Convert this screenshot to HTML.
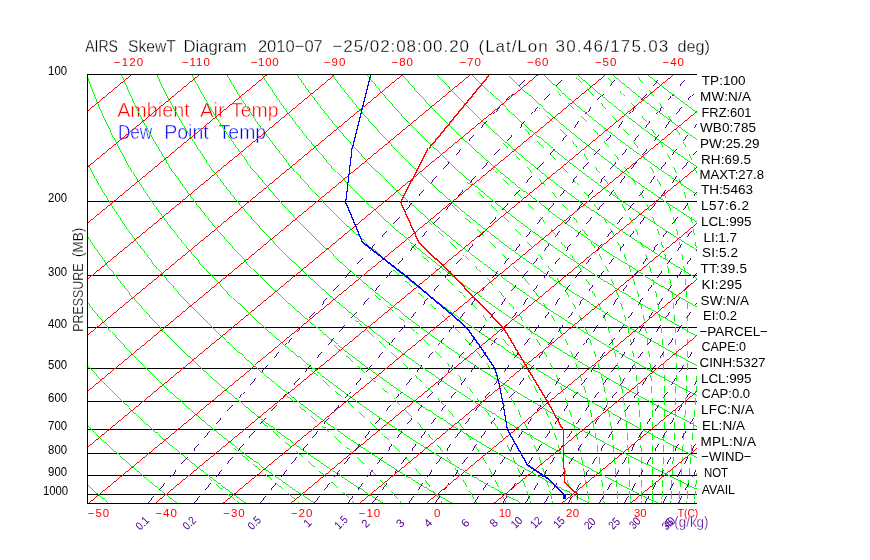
<!DOCTYPE html>
<html><head><meta charset="utf-8"><title>AIRS SkewT Diagram</title>
<style>
html,body{margin:0;padding:0;background:#fff;}
body{width:870px;height:560px;position:relative;overflow:hidden;font-family:"Liberation Sans",sans-serif;}
svg text{font-family:"Liberation Sans",sans-serif;}
</style></head><body>
<svg width="870" height="560" viewBox="0 0 870 560" style="position:absolute;left:0;top:0;transform:translateZ(0)">
<defs><clipPath id="c"><rect x="87" y="74" width="610" height="430"/></clipPath></defs>
<text y="117.2" font-size="21" fill="#ff0000" stroke="#fff" stroke-width="0.5"><tspan x="117.2" textLength="72.5" lengthAdjust="spacingAndGlyphs">Ambient</tspan> <tspan x="200.0" textLength="24.8" lengthAdjust="spacingAndGlyphs">Air</tspan> <tspan x="231.0" textLength="47.6" lengthAdjust="spacingAndGlyphs">Temp</tspan></text>
<text y="138.5" font-size="21" fill="#0000ff" stroke="#fff" stroke-width="0.5"><tspan x="117.9" textLength="34.4" lengthAdjust="spacingAndGlyphs">Dew</tspan> <tspan x="164.2" textLength="44.5" lengthAdjust="spacingAndGlyphs">Point</tspan> <tspan x="218.6" textLength="47.6" lengthAdjust="spacingAndGlyphs">Temp</tspan></text>
<g clip-path="url(#c)" fill="none" stroke-width="1" shape-rendering="crispEdges">
<path stroke="#000000" d="M87 201.5 H697 M87 275.5 H697 M87 327.5 H697 M87 368.5 H697 M87 401.5 H697 M87 429.5 H697 M87 453.5 H697 M87 475.5 H697 M87 494.5 H697"/>
<path stroke="#00ff00" stroke-width="0.99" d="M108.8 503.4 L106.7 501.6 L104.6 499.9 L102.5 498.1 L100.4 496.3 L98.3 494.5 L96.1 492.7 L94.0 490.8 L91.9 488.9 L89.7 487.1 L87.5 485.2 L85.4 483.2 L83.2 481.3 L81.0 479.3 L78.8 477.3 L76.6 475.3 L74.4 473.3 L72.1 471.2 L69.9 469.1 L67.7 467.0 L65.4 464.9 L63.1 462.7 L60.9 460.5 L58.6 458.3 L56.3 456.1 L54.0 453.8 L51.6 451.5 L49.3 449.2 L47.0 446.9 L44.6 444.5 L42.2 442.1 L39.9 439.6 L37.5 437.2 L35.1 434.6 L32.6 432.1 L30.2 429.5 L27.8 426.9 L25.3 424.2 L22.9 421.5 L20.4 418.8 L17.9 416.0 L15.4 413.2 L12.9 410.3 L10.4 407.4 L7.9 404.4 L5.3 401.4 L2.7 398.3 L0.2 395.2 L-2.4 392.1 L-5.0 388.8 L-7.6 385.6 L-10.3 382.2 L-12.9 378.8 L-15.6 375.3 L-18.2 371.8 L-20.9 368.2 L-23.6 364.5 L-26.3 360.7 L-29.0 356.9 L-31.7 353.0 L-34.5 349.0 L-37.2 344.9 L-40.0 340.7 L-42.8 336.4 L-45.6 332.0 L-48.4 327.5 L-51.2 322.9 L-54.0 318.2 L-56.9 313.3 L-59.7 308.3 L-62.6 303.2 L-65.4 297.9 L-68.3 292.5 L-71.2 286.9 L-74.0 281.1 L-76.9 275.1 L-79.8 268.9 L-82.6 262.5 L-85.5 255.9 L-88.3 249.0 L-91.2 241.9 L-94.0 234.4 L-96.8 226.7 L-99.5 218.6 L-102.2 210.1 L-104.9 201.2 L-107.5 191.9 L-110.0 182.0 L-112.4 171.6 L-114.7 160.5 L-116.9 148.8 L-118.8 136.2 L-120.6 122.7 L-122.0 108.1 L-123.1 92.3 L-123.7 74.9 M177.5 503.4 L175.2 501.6 L172.9 499.9 L170.6 498.1 L168.3 496.3 L166.0 494.5 L163.7 492.7 L161.4 490.8 L159.0 488.9 L156.7 487.1 L154.3 485.2 L151.9 483.2 L149.6 481.3 L147.2 479.3 L144.8 477.3 L142.3 475.3 L139.9 473.3 L137.5 471.2 L135.0 469.1 L132.6 467.0 L130.1 464.9 L127.6 462.7 L125.1 460.5 L122.6 458.3 L120.1 456.1 L117.5 453.8 L115.0 451.5 L112.4 449.2 L109.8 446.9 L107.2 444.5 L104.6 442.1 L102.0 439.6 L99.4 437.2 L96.7 434.6 L94.1 432.1 L91.4 429.5 L88.7 426.9 L86.0 424.2 L83.3 421.5 L80.6 418.8 L77.8 416.0 L75.1 413.2 L72.3 410.3 L69.5 407.4 L66.7 404.4 L63.8 401.4 L61.0 398.3 L58.1 395.2 L55.3 392.1 L52.4 388.8 L49.5 385.6 L46.5 382.2 L43.6 378.8 L40.6 375.3 L37.7 371.8 L34.7 368.2 L31.7 364.5 L28.6 360.7 L25.6 356.9 L22.5 353.0 L19.4 349.0 L16.3 344.9 L13.2 340.7 L10.1 336.4 L6.9 332.0 L3.7 327.5 L0.5 322.9 L-2.7 318.2 L-5.9 313.3 L-9.1 308.3 L-12.4 303.2 L-15.7 297.9 L-18.9 292.5 L-22.2 286.9 L-25.6 281.1 L-28.9 275.1 L-32.2 268.9 L-35.6 262.5 L-38.9 255.9 L-42.2 249.0 L-45.6 241.9 L-48.9 234.4 L-52.3 226.7 L-55.6 218.6 L-58.9 210.1 L-62.1 201.2 L-65.3 191.9 L-68.5 182.0 L-71.6 171.6 L-74.6 160.5 L-77.5 148.8 L-80.2 136.2 L-82.8 122.7 L-85.1 108.1 L-87.1 92.3 L-88.7 74.9 M246.2 503.4 L243.7 501.6 L241.2 499.9 L238.8 498.1 L236.3 496.3 L233.8 494.5 L231.2 492.7 L228.7 490.8 L226.2 488.9 L223.6 487.1 L221.1 485.2 L218.5 483.2 L215.9 481.3 L213.3 479.3 L210.7 477.3 L208.1 475.3 L205.4 473.3 L202.8 471.2 L200.1 469.1 L197.4 467.0 L194.7 464.9 L192.0 462.7 L189.3 460.5 L186.6 458.3 L183.8 456.1 L181.1 453.8 L178.3 451.5 L175.5 449.2 L172.7 446.9 L169.9 444.5 L167.0 442.1 L164.2 439.6 L161.3 437.2 L158.4 434.6 L155.5 432.1 L152.6 429.5 L149.6 426.9 L146.7 424.2 L143.7 421.5 L140.7 418.8 L137.7 416.0 L134.7 413.2 L131.6 410.3 L128.6 407.4 L125.5 404.4 L122.4 401.4 L119.3 398.3 L116.1 395.2 L113.0 392.1 L109.8 388.8 L106.6 385.6 L103.3 382.2 L100.1 378.8 L96.8 375.3 L93.5 371.8 L90.2 368.2 L86.9 364.5 L83.5 360.7 L80.2 356.9 L76.8 353.0 L73.3 349.0 L69.9 344.9 L66.4 340.7 L62.9 336.4 L59.4 332.0 L55.9 327.5 L52.3 322.9 L48.7 318.2 L45.1 313.3 L41.5 308.3 L37.8 303.2 L34.1 297.9 L30.4 292.5 L26.7 286.9 L22.9 281.1 L19.1 275.1 L15.3 268.9 L11.5 262.5 L7.7 255.9 L3.8 249.0 L-0.0 241.9 L-3.9 234.4 L-7.8 226.7 L-11.6 218.6 L-15.5 210.1 L-19.4 201.2 L-23.2 191.9 L-27.0 182.0 L-30.8 171.6 L-34.5 160.5 L-38.1 148.8 L-41.6 136.2 L-45.0 122.7 L-48.1 108.1 L-51.0 92.3 L-53.6 74.9 M314.9 503.4 L312.2 501.6 L309.6 499.9 L306.9 498.1 L304.2 496.3 L301.5 494.5 L298.8 492.7 L296.1 490.8 L293.3 488.9 L290.6 487.1 L287.8 485.2 L285.1 483.2 L282.3 481.3 L279.5 479.3 L276.6 477.3 L273.8 475.3 L271.0 473.3 L268.1 471.2 L265.2 469.1 L262.3 467.0 L259.4 464.9 L256.5 462.7 L253.6 460.5 L250.6 458.3 L247.6 456.1 L244.6 453.8 L241.6 451.5 L238.6 449.2 L235.6 446.9 L232.5 444.5 L229.4 442.1 L226.3 439.6 L223.2 437.2 L220.1 434.6 L216.9 432.1 L213.8 429.5 L210.6 426.9 L207.4 424.2 L204.1 421.5 L200.9 418.8 L197.6 416.0 L194.3 413.2 L191.0 410.3 L187.7 407.4 L184.3 404.4 L180.9 401.4 L177.5 398.3 L174.1 395.2 L170.6 392.1 L167.2 388.8 L163.7 385.6 L160.2 382.2 L156.6 378.8 L153.0 375.3 L149.4 371.8 L145.8 368.2 L142.1 364.5 L138.5 360.7 L134.8 356.9 L131.0 353.0 L127.3 349.0 L123.5 344.9 L119.6 340.7 L115.8 336.4 L111.9 332.0 L108.0 327.5 L104.1 322.9 L100.1 318.2 L96.1 313.3 L92.0 308.3 L88.0 303.2 L83.9 297.9 L79.7 292.5 L75.6 286.9 L71.4 281.1 L67.1 275.1 L62.9 268.9 L58.6 262.5 L54.3 255.9 L49.9 249.0 L45.6 241.9 L41.2 234.4 L36.7 226.7 L32.3 218.6 L27.8 210.1 L23.4 201.2 L18.9 191.9 L14.5 182.0 L10.0 171.6 L5.6 160.5 L1.3 148.8 L-3.0 136.2 L-7.2 122.7 L-11.2 108.1 L-15.0 92.3 L-18.5 74.9 M383.6 503.4 L380.7 501.6 L377.9 499.9 L375.0 498.1 L372.1 496.3 L369.3 494.5 L366.4 492.7 L363.4 490.8 L360.5 488.9 L357.6 487.1 L354.6 485.2 L351.6 483.2 L348.6 481.3 L345.6 479.3 L342.6 477.3 L339.6 475.3 L336.5 473.3 L333.4 471.2 L330.3 469.1 L327.2 467.0 L324.1 464.9 L321.0 462.7 L317.8 460.5 L314.6 458.3 L311.4 456.1 L308.2 453.8 L305.0 451.5 L301.7 449.2 L298.4 446.9 L295.1 444.5 L291.8 442.1 L288.5 439.6 L285.1 437.2 L281.8 434.6 L278.4 432.1 L274.9 429.5 L271.5 426.9 L268.0 424.2 L264.6 421.5 L261.0 418.8 L257.5 416.0 L253.9 413.2 L250.4 410.3 L246.8 407.4 L243.1 404.4 L239.5 401.4 L235.8 398.3 L232.1 395.2 L228.3 392.1 L224.6 388.8 L220.8 385.6 L217.0 382.2 L213.1 378.8 L209.2 375.3 L205.3 371.8 L201.4 368.2 L197.4 364.5 L193.4 360.7 L189.4 356.9 L185.3 353.0 L181.2 349.0 L177.0 344.9 L172.9 340.7 L168.7 336.4 L164.4 332.0 L160.1 327.5 L155.8 322.9 L151.5 318.2 L147.1 313.3 L142.6 308.3 L138.1 303.2 L133.6 297.9 L129.1 292.5 L124.5 286.9 L119.8 281.1 L115.2 275.1 L110.4 268.9 L105.7 262.5 L100.9 255.9 L96.0 249.0 L91.1 241.9 L86.2 234.4 L81.2 226.7 L76.2 218.6 L71.2 210.1 L66.1 201.2 L61.1 191.9 L56.0 182.0 L50.9 171.6 L45.7 160.5 L40.7 148.8 L35.6 136.2 L30.6 122.7 L25.8 108.1 L21.0 92.3 L16.5 74.9 M452.3 503.4 L449.2 501.6 L446.2 499.9 L443.2 498.1 L440.1 496.3 L437.0 494.5 L433.9 492.7 L430.8 490.8 L427.7 488.9 L424.5 487.1 L421.4 485.2 L418.2 483.2 L415.0 481.3 L411.8 479.3 L408.5 477.3 L405.3 475.3 L402.0 473.3 L398.7 471.2 L395.4 469.1 L392.1 467.0 L388.8 464.9 L385.4 462.7 L382.0 460.5 L378.6 458.3 L375.2 456.1 L371.8 453.8 L368.3 451.5 L364.8 449.2 L361.3 446.9 L357.8 444.5 L354.2 442.1 L350.7 439.6 L347.1 437.2 L343.4 434.6 L339.8 432.1 L336.1 429.5 L332.4 426.9 L328.7 424.2 L325.0 421.5 L321.2 418.8 L317.4 416.0 L313.6 413.2 L309.7 410.3 L305.9 407.4 L301.9 404.4 L298.0 401.4 L294.0 398.3 L290.1 395.2 L286.0 392.1 L282.0 388.8 L277.9 385.6 L273.8 382.2 L269.6 378.8 L265.4 375.3 L261.2 371.8 L256.9 368.2 L252.6 364.5 L248.3 360.7 L243.9 356.9 L239.5 353.0 L235.1 349.0 L230.6 344.9 L226.1 340.7 L221.5 336.4 L216.9 332.0 L212.3 327.5 L207.6 322.9 L202.8 318.2 L198.0 313.3 L193.2 308.3 L188.3 303.2 L183.4 297.9 L178.4 292.5 L173.4 286.9 L168.3 281.1 L163.2 275.1 L158.0 268.9 L152.7 262.5 L147.5 255.9 L142.1 249.0 L136.7 241.9 L131.2 234.4 L125.7 226.7 L120.2 218.6 L114.6 210.1 L108.9 201.2 L103.2 191.9 L97.4 182.0 L91.7 171.6 L85.9 160.5 L80.0 148.8 L74.2 136.2 L68.4 122.7 L62.7 108.1 L57.1 92.3 L51.6 74.9 M521.0 503.4 L517.8 501.6 L514.5 499.9 L511.3 498.1 L508.0 496.3 L504.8 494.5 L501.5 492.7 L498.2 490.8 L494.8 488.9 L491.5 487.1 L488.1 485.2 L484.7 483.2 L481.3 481.3 L477.9 479.3 L474.5 477.3 L471.0 475.3 L467.6 473.3 L464.1 471.2 L460.5 469.1 L457.0 467.0 L453.4 464.9 L449.9 462.7 L446.3 460.5 L442.6 458.3 L439.0 456.1 L435.3 453.8 L431.6 451.5 L427.9 449.2 L424.2 446.9 L420.4 444.5 L416.6 442.1 L412.8 439.6 L409.0 437.2 L405.1 434.6 L401.2 432.1 L397.3 429.5 L393.4 426.9 L389.4 424.2 L385.4 421.5 L381.4 418.8 L377.3 416.0 L373.2 413.2 L369.1 410.3 L364.9 407.4 L360.8 404.4 L356.6 401.4 L352.3 398.3 L348.0 395.2 L343.7 392.1 L339.4 388.8 L335.0 385.6 L330.6 382.2 L326.1 378.8 L321.6 375.3 L317.1 371.8 L312.5 368.2 L307.9 364.5 L303.2 360.7 L298.5 356.9 L293.8 353.0 L289.0 349.0 L284.2 344.9 L279.3 340.7 L274.4 336.4 L269.4 332.0 L264.4 327.5 L259.3 322.9 L254.2 318.2 L249.0 313.3 L243.8 308.3 L238.5 303.2 L233.2 297.9 L227.8 292.5 L222.3 286.9 L216.8 281.1 L211.2 275.1 L205.5 268.9 L199.8 262.5 L194.0 255.9 L188.2 249.0 L182.3 241.9 L176.3 234.4 L170.2 226.7 L164.1 218.6 L157.9 210.1 L151.7 201.2 L145.3 191.9 L138.9 182.0 L132.5 171.6 L126.0 160.5 L119.4 148.8 L112.8 136.2 L106.2 122.7 L99.6 108.1 L93.1 92.3 L86.7 74.9 M589.7 503.4 L586.3 501.6 L582.9 499.9 L579.4 498.1 L576.0 496.3 L572.5 494.5 L569.0 492.7 L565.5 490.8 L562.0 488.9 L558.5 487.1 L554.9 485.2 L551.3 483.2 L547.7 481.3 L544.1 479.3 L540.4 477.3 L536.8 475.3 L533.1 473.3 L529.4 471.2 L525.6 469.1 L521.9 467.0 L518.1 464.9 L514.3 462.7 L510.5 460.5 L506.6 458.3 L502.8 456.1 L498.9 453.8 L495.0 451.5 L491.0 449.2 L487.0 446.9 L483.0 444.5 L479.0 442.1 L475.0 439.6 L470.9 437.2 L466.8 434.6 L462.6 432.1 L458.5 429.5 L454.3 426.9 L450.1 424.2 L445.8 421.5 L441.5 418.8 L437.2 416.0 L432.8 413.2 L428.5 410.3 L424.0 407.4 L419.6 404.4 L415.1 401.4 L410.6 398.3 L406.0 395.2 L401.4 392.1 L396.8 388.8 L392.1 385.6 L387.4 382.2 L382.6 378.8 L377.8 375.3 L373.0 371.8 L368.1 368.2 L363.1 364.5 L358.2 360.7 L353.1 356.9 L348.1 353.0 L342.9 349.0 L337.8 344.9 L332.5 340.7 L327.2 336.4 L321.9 332.0 L316.5 327.5 L311.1 322.9 L305.6 318.2 L300.0 313.3 L294.4 308.3 L288.7 303.2 L282.9 297.9 L277.1 292.5 L271.2 286.9 L265.2 281.1 L259.2 275.1 L253.1 268.9 L246.9 262.5 L240.6 255.9 L234.3 249.0 L227.9 241.9 L221.3 234.4 L214.7 226.7 L208.1 218.6 L201.3 210.1 L194.4 201.2 L187.5 191.9 L180.4 182.0 L173.3 171.6 L166.1 160.5 L158.8 148.8 L151.4 136.2 L144.0 122.7 L136.6 108.1 L129.1 92.3 L121.7 74.9 M658.4 503.4 L654.8 501.6 L651.2 499.9 L647.6 498.1 L643.9 496.3 L640.3 494.5 L636.6 492.7 L632.9 490.8 L629.2 488.9 L625.4 487.1 L621.7 485.2 L617.9 483.2 L614.1 481.3 L610.2 479.3 L606.4 477.3 L602.5 475.3 L598.6 473.3 L594.7 471.2 L590.7 469.1 L586.8 467.0 L582.8 464.9 L578.8 462.7 L574.7 460.5 L570.7 458.3 L566.6 456.1 L562.4 453.8 L558.3 451.5 L554.1 449.2 L549.9 446.9 L545.7 444.5 L541.4 442.1 L537.1 439.6 L532.8 437.2 L528.5 434.6 L524.1 432.1 L519.7 429.5 L515.2 426.9 L510.7 424.2 L506.2 421.5 L501.7 418.8 L497.1 416.0 L492.5 413.2 L487.8 410.3 L483.1 407.4 L478.4 404.4 L473.6 401.4 L468.8 398.3 L464.0 395.2 L459.1 392.1 L454.2 388.8 L449.2 385.6 L444.2 382.2 L439.1 378.8 L434.0 375.3 L428.8 371.8 L423.6 368.2 L418.4 364.5 L413.1 360.7 L407.7 356.9 L402.3 353.0 L396.8 349.0 L391.3 344.9 L385.7 340.7 L380.1 336.4 L374.4 332.0 L368.7 327.5 L362.8 322.9 L356.9 318.2 L351.0 313.3 L345.0 308.3 L338.9 303.2 L332.7 297.9 L326.4 292.5 L320.1 286.9 L313.7 281.1 L307.2 275.1 L300.6 268.9 L294.0 262.5 L287.2 255.9 L280.4 249.0 L273.4 241.9 L266.4 234.4 L259.2 226.7 L252.0 218.6 L244.6 210.1 L237.2 201.2 L229.6 191.9 L221.9 182.0 L214.1 171.6 L206.2 160.5 L198.2 148.8 L190.1 136.2 L181.8 122.7 L173.5 108.1 L165.2 92.3 L156.8 74.9 M727.1 503.4 L723.3 501.6 L719.5 499.9 L715.7 498.1 L711.9 496.3 L708.0 494.5 L704.1 492.7 L700.2 490.8 L696.3 488.9 L692.4 487.1 L688.4 485.2 L684.4 483.2 L680.4 481.3 L676.4 479.3 L672.3 477.3 L668.2 475.3 L664.1 473.3 L660.0 471.2 L655.9 469.1 L651.7 467.0 L647.5 464.9 L643.2 462.7 L639.0 460.5 L634.7 458.3 L630.4 456.1 L626.0 453.8 L621.6 451.5 L617.2 449.2 L612.8 446.9 L608.3 444.5 L603.8 442.1 L599.3 439.6 L594.7 437.2 L590.1 434.6 L585.5 432.1 L580.8 429.5 L576.1 426.9 L571.4 424.2 L566.6 421.5 L561.8 418.8 L557.0 416.0 L552.1 413.2 L547.2 410.3 L542.2 407.4 L537.2 404.4 L532.2 401.4 L527.1 398.3 L522.0 395.2 L516.8 392.1 L511.6 388.8 L506.3 385.6 L501.0 382.2 L495.6 378.8 L490.2 375.3 L484.7 371.8 L479.2 368.2 L473.6 364.5 L468.0 360.7 L462.3 356.9 L456.6 353.0 L450.8 349.0 L444.9 344.9 L439.0 340.7 L433.0 336.4 L426.9 332.0 L420.8 327.5 L414.6 322.9 L408.3 318.2 L402.0 313.3 L395.5 308.3 L389.0 303.2 L382.4 297.9 L375.8 292.5 L369.0 286.9 L362.2 281.1 L355.2 275.1 L348.2 268.9 L341.0 262.5 L333.8 255.9 L326.5 249.0 L319.0 241.9 L311.4 234.4 L303.7 226.7 L295.9 218.6 L288.0 210.1 L279.9 201.2 L271.7 191.9 L263.4 182.0 L254.9 171.6 L246.3 160.5 L237.6 148.8 L228.7 136.2 L219.6 122.7 L210.5 108.1 L201.2 92.3 L191.9 74.9 M795.8 503.4 L791.8 501.6 L787.8 499.9 L783.8 498.1 L779.8 496.3 L775.8 494.5 L771.7 492.7 L767.6 490.8 L763.5 488.9 L759.3 487.1 L755.2 485.2 L751.0 483.2 L746.8 481.3 L742.5 479.3 L738.3 477.3 L734.0 475.3 L729.7 473.3 L725.3 471.2 L721.0 469.1 L716.6 467.0 L712.1 464.9 L707.7 462.7 L703.2 460.5 L698.7 458.3 L694.1 456.1 L689.6 453.8 L685.0 451.5 L680.3 449.2 L675.7 446.9 L671.0 444.5 L666.2 442.1 L661.5 439.6 L656.6 437.2 L651.8 434.6 L646.9 432.1 L642.0 429.5 L637.1 426.9 L632.1 424.2 L627.1 421.5 L622.0 418.8 L616.9 416.0 L611.7 413.2 L606.5 410.3 L601.3 407.4 L596.0 404.4 L590.7 401.4 L585.3 398.3 L579.9 395.2 L574.5 392.1 L569.0 388.8 L563.4 385.6 L557.8 382.2 L552.1 378.8 L546.4 375.3 L540.6 371.8 L534.8 368.2 L528.9 364.5 L522.9 360.7 L516.9 356.9 L510.8 353.0 L504.7 349.0 L498.5 344.9 L492.2 340.7 L485.8 336.4 L479.4 332.0 L472.9 327.5 L466.3 322.9 L459.7 318.2 L452.9 313.3 L446.1 308.3 L439.2 303.2 L432.2 297.9 L425.1 292.5 L417.9 286.9 L410.6 281.1 L403.2 275.1 L395.7 268.9 L388.1 262.5 L380.4 255.9 L372.5 249.0 L364.6 241.9 L356.5 234.4 L348.2 226.7 L339.9 218.6 L331.4 210.1 L322.7 201.2 L313.9 191.9 L304.9 182.0 L295.7 171.6 L286.4 160.5 L276.9 148.8 L267.3 136.2 L257.4 122.7 L247.4 108.1 L237.2 92.3 L226.9 74.9 M864.5 503.4 L860.3 501.6 L856.2 499.9 L852.0 498.1 L847.8 496.3 L843.5 494.5 L839.2 492.7 L835.0 490.8 L830.6 488.9 L826.3 487.1 L821.9 485.2 L817.6 483.2 L813.1 481.3 L808.7 479.3 L804.2 477.3 L799.7 475.3 L795.2 473.3 L790.6 471.2 L786.1 469.1 L781.4 467.0 L776.8 464.9 L772.1 462.7 L767.4 460.5 L762.7 458.3 L757.9 456.1 L753.1 453.8 L748.3 451.5 L743.4 449.2 L738.5 446.9 L733.6 444.5 L728.6 442.1 L723.6 439.6 L718.6 437.2 L713.5 434.6 L708.4 432.1 L703.2 429.5 L698.0 426.9 L692.8 424.2 L687.5 421.5 L682.2 418.8 L676.8 416.0 L671.4 413.2 L665.9 410.3 L660.4 407.4 L654.9 404.4 L649.3 401.4 L643.6 398.3 L637.9 395.2 L632.2 392.1 L626.4 388.8 L620.5 385.6 L614.6 382.2 L608.6 378.8 L602.6 375.3 L596.5 371.8 L590.3 368.2 L584.1 364.5 L577.8 360.7 L571.5 356.9 L565.1 353.0 L558.6 349.0 L552.0 344.9 L545.4 340.7 L538.7 336.4 L531.9 332.0 L525.0 327.5 L518.1 322.9 L511.1 318.2 L503.9 313.3 L496.7 308.3 L489.4 303.2 L482.0 297.9 L474.5 292.5 L466.8 286.9 L459.1 281.1 L451.3 275.1 L443.3 268.9 L435.2 262.5 L427.0 255.9 L418.6 249.0 L410.1 241.9 L401.5 234.4 L392.7 226.7 L383.8 218.6 L374.7 210.1 L365.4 201.2 L356.0 191.9 L346.4 182.0 L336.6 171.6 L326.5 160.5 L316.3 148.8 L305.9 136.2 L295.2 122.7 L284.4 108.1 L273.3 92.3 L262.0 74.9 M933.2 503.4 L928.8 501.6 L924.5 499.9 L920.1 498.1 L915.7 496.3 L911.3 494.5 L906.8 492.7 L902.3 490.8 L897.8 488.9 L893.3 487.1 L888.7 485.2 L884.1 483.2 L879.5 481.3 L874.8 479.3 L870.2 477.3 L865.5 475.3 L860.7 473.3 L856.0 471.2 L851.2 469.1 L846.3 467.0 L841.5 464.9 L836.6 462.7 L831.7 460.5 L826.7 458.3 L821.7 456.1 L816.7 453.8 L811.6 451.5 L806.5 449.2 L801.4 446.9 L796.2 444.5 L791.0 442.1 L785.8 439.6 L780.5 437.2 L775.2 434.6 L769.8 432.1 L764.4 429.5 L758.9 426.9 L753.4 424.2 L747.9 421.5 L742.3 418.8 L736.7 416.0 L731.0 413.2 L725.3 410.3 L719.5 407.4 L713.7 404.4 L707.8 401.4 L701.9 398.3 L695.9 395.2 L689.8 392.1 L683.7 388.8 L677.6 385.6 L671.4 382.2 L665.1 378.8 L658.8 375.3 L652.4 371.8 L645.9 368.2 L639.4 364.5 L632.8 360.7 L626.1 356.9 L619.3 353.0 L612.5 349.0 L605.6 344.9 L598.6 340.7 L591.6 336.4 L584.4 332.0 L577.2 327.5 L569.8 322.9 L562.4 318.2 L554.9 313.3 L547.3 308.3 L539.6 303.2 L531.7 297.9 L523.8 292.5 L515.7 286.9 L507.6 281.1 L499.3 275.1 L490.8 268.9 L482.3 262.5 L473.6 255.9 L464.7 249.0 L455.7 241.9 L446.6 234.4 L437.2 226.7 L427.7 218.6 L418.1 210.1 L408.2 201.2 L398.1 191.9 L387.9 182.0 L377.4 171.6 L366.7 160.5 L355.7 148.8 L344.5 136.2 L333.0 122.7 L321.3 108.1 L309.3 92.3 L297.1 74.9 M1001.9 503.4 L997.4 501.6 L992.8 499.9 L988.2 498.1 L983.6 496.3 L979.0 494.5 L974.4 492.7 L969.7 490.8 L965.0 488.9 L960.2 487.1 L955.5 485.2 L950.7 483.2 L945.9 481.3 L941.0 479.3 L936.1 477.3 L931.2 475.3 L926.3 473.3 L921.3 471.2 L916.3 469.1 L911.2 467.0 L906.2 464.9 L901.0 462.7 L895.9 460.5 L890.7 458.3 L885.5 456.1 L880.2 453.8 L875.0 451.5 L869.6 449.2 L864.3 446.9 L858.9 444.5 L853.4 442.1 L847.9 439.6 L842.4 437.2 L836.8 434.6 L831.2 432.1 L825.6 429.5 L819.9 426.9 L814.1 424.2 L808.3 421.5 L802.5 418.8 L796.6 416.0 L790.6 413.2 L784.6 410.3 L778.6 407.4 L772.5 404.4 L766.3 401.4 L760.1 398.3 L753.9 395.2 L747.5 392.1 L741.1 388.8 L734.7 385.6 L728.2 382.2 L721.6 378.8 L715.0 375.3 L708.3 371.8 L701.5 368.2 L694.6 364.5 L687.7 360.7 L680.7 356.9 L673.6 353.0 L666.4 349.0 L659.2 344.9 L651.9 340.7 L644.4 336.4 L636.9 332.0 L629.3 327.5 L621.6 322.9 L613.8 318.2 L605.9 313.3 L597.9 308.3 L589.7 303.2 L581.5 297.9 L573.1 292.5 L564.6 286.9 L556.0 281.1 L547.3 275.1 L538.4 268.9 L529.4 262.5 L520.2 255.9 L510.8 249.0 L501.3 241.9 L491.6 234.4 L481.7 226.7 L471.7 218.6 L461.4 210.1 L451.0 201.2 L440.3 191.9 L429.3 182.0 L418.2 171.6 L406.8 160.5 L395.1 148.8 L383.1 136.2 L370.8 122.7 L358.3 108.1 L345.4 92.3 L332.1 74.9 M1070.6 503.4 L1065.9 501.6 L1061.1 499.9 L1056.4 498.1 L1051.6 496.3 L1046.8 494.5 L1041.9 492.7 L1037.0 490.8 L1032.1 488.9 L1027.2 487.1 L1022.2 485.2 L1017.2 483.2 L1012.2 481.3 L1007.2 479.3 L1002.1 477.3 L996.9 475.3 L991.8 473.3 L986.6 471.2 L981.4 469.1 L976.1 467.0 L970.8 464.9 L965.5 462.7 L960.1 460.5 L954.7 458.3 L949.3 456.1 L943.8 453.8 L938.3 451.5 L932.7 449.2 L927.1 446.9 L921.5 444.5 L915.8 442.1 L910.1 439.6 L904.3 437.2 L898.5 434.6 L892.6 432.1 L886.7 429.5 L880.8 426.9 L874.8 424.2 L868.7 421.5 L862.6 418.8 L856.5 416.0 L850.3 413.2 L844.0 410.3 L837.7 407.4 L831.3 404.4 L824.9 401.4 L818.4 398.3 L811.8 395.2 L805.2 392.1 L798.5 388.8 L791.8 385.6 L785.0 382.2 L778.1 378.8 L771.2 375.3 L764.1 371.8 L757.0 368.2 L749.9 364.5 L742.6 360.7 L735.3 356.9 L727.9 353.0 L720.3 349.0 L712.8 344.9 L705.1 340.7 L697.3 336.4 L689.4 332.0 L681.4 327.5 L673.4 322.9 L665.2 318.2 L656.9 313.3 L648.5 308.3 L639.9 303.2 L631.3 297.9 L622.5 292.5 L613.6 286.9 L604.5 281.1 L595.3 275.1 L585.9 268.9 L576.4 262.5 L566.7 255.9 L556.9 249.0 L546.9 241.9 L536.7 234.4 L526.2 226.7 L515.6 218.6 L504.8 210.1 L493.7 201.2 L482.4 191.9 L470.8 182.0 L459.0 171.6 L446.9 160.5 L434.5 148.8 L421.7 136.2 L408.6 122.7 L395.2 108.1 L381.4 92.3 L367.2 74.9 M1139.3 503.4 L1134.4 501.6 L1129.5 499.9 L1124.5 498.1 L1119.5 496.3 L1114.5 494.5 L1109.5 492.7 L1104.4 490.8 L1099.3 488.9 L1094.2 487.1 L1089.0 485.2 L1083.8 483.2 L1078.6 481.3 L1073.3 479.3 L1068.0 477.3 L1062.7 475.3 L1057.3 473.3 L1051.9 471.2 L1046.5 469.1 L1041.0 467.0 L1035.5 464.9 L1030.0 462.7 L1024.4 460.5 L1018.7 458.3 L1013.1 456.1 L1007.4 453.8 L1001.6 451.5 L995.8 449.2 L990.0 446.9 L984.1 444.5 L978.2 442.1 L972.2 439.6 L966.2 437.2 L960.2 434.6 L954.1 432.1 L947.9 429.5 L941.7 426.9 L935.5 424.2 L929.1 421.5 L922.8 418.8 L916.4 416.0 L909.9 413.2 L903.4 410.3 L896.8 407.4 L890.1 404.4 L883.4 401.4 L876.6 398.3 L869.8 395.2 L862.9 392.1 L855.9 388.8 L848.9 385.6 L841.8 382.2 L834.6 378.8 L827.4 375.3 L820.0 371.8 L812.6 368.2 L805.1 364.5 L797.5 360.7 L789.9 356.9 L782.1 353.0 L774.3 349.0 L766.3 344.9 L758.3 340.7 L750.2 336.4 L741.9 332.0 L733.6 327.5 L725.1 322.9 L716.5 318.2 L707.9 313.3 L699.0 308.3 L690.1 303.2 L681.0 297.9 L671.8 292.5 L662.5 286.9 L653.0 281.1 L643.3 275.1 L633.5 268.9 L623.5 262.5 L613.3 255.9 L603.0 249.0 L592.4 241.9 L581.7 234.4 L570.7 226.7 L559.6 218.6 L548.1 210.1 L536.5 201.2 L524.5 191.9 L512.3 182.0 L499.8 171.6 L487.0 160.5 L473.8 148.8 L460.3 136.2 L446.4 122.7 L432.1 108.1 L417.4 92.3 L402.3 74.9 M1208.0 503.4 L1202.9 501.6 L1197.8 499.9 L1192.6 498.1 L1187.5 496.3 L1182.3 494.5 L1177.0 492.7 L1171.8 490.8 L1166.5 488.9 L1161.1 487.1 L1155.8 485.2 L1150.4 483.2 L1144.9 481.3 L1139.5 479.3 L1134.0 477.3 L1128.4 475.3 L1122.8 473.3 L1117.2 471.2 L1111.6 469.1 L1105.9 467.0 L1100.2 464.9 L1094.4 462.7 L1088.6 460.5 L1082.8 458.3 L1076.9 456.1 L1070.9 453.8 L1065.0 451.5 L1058.9 449.2 L1052.9 446.9 L1046.8 444.5 L1040.6 442.1 L1034.4 439.6 L1028.2 437.2 L1021.9 434.6 L1015.5 432.1 L1009.1 429.5 L1002.6 426.9 L996.1 424.2 L989.6 421.5 L982.9 418.8 L976.3 416.0 L969.5 413.2 L962.7 410.3 L955.9 407.4 L948.9 404.4 L942.0 401.4 L934.9 398.3 L927.8 395.2 L920.6 392.1 L913.3 388.8 L906.0 385.6 L898.6 382.2 L891.1 378.8 L883.5 375.3 L875.9 371.8 L868.2 368.2 L860.4 364.5 L852.5 360.7 L844.5 356.9 L836.4 353.0 L828.2 349.0 L819.9 344.9 L811.5 340.7 L803.0 336.4 L794.4 332.0 L785.7 327.5 L776.9 322.9 L767.9 318.2 L758.8 313.3 L749.6 308.3 L740.3 303.2 L730.8 297.9 L721.2 292.5 L711.4 286.9 L701.4 281.1 L691.3 275.1 L681.0 268.9 L670.6 262.5 L659.9 255.9 L649.1 249.0 L638.0 241.9 L626.7 234.4 L615.2 226.7 L603.5 218.6 L591.5 210.1 L579.2 201.2 L566.7 191.9 L553.8 182.0 L540.6 171.6 L527.1 160.5 L513.2 148.8 L498.9 136.2 L484.2 122.7 L469.1 108.1 L453.5 92.3 L437.3 74.9 M1276.7 503.4 L1271.4 501.6 L1266.1 499.9 L1260.8 498.1 L1255.4 496.3 L1250.0 494.5 L1244.6 492.7 L1239.1 490.8 L1233.6 488.9 L1228.1 487.1 L1222.5 485.2 L1216.9 483.2 L1211.3 481.3 L1205.6 479.3 L1199.9 477.3 L1194.2 475.3 L1188.4 473.3 L1182.6 471.2 L1176.7 469.1 L1170.8 467.0 L1164.8 464.9 L1158.9 462.7 L1152.8 460.5 L1146.8 458.3 L1140.7 456.1 L1134.5 453.8 L1128.3 451.5 L1122.0 449.2 L1115.7 446.9 L1109.4 444.5 L1103.0 442.1 L1096.6 439.6 L1090.1 437.2 L1083.5 434.6 L1076.9 432.1 L1070.3 429.5 L1063.6 426.9 L1056.8 424.2 L1050.0 421.5 L1043.1 418.8 L1036.2 416.0 L1029.2 413.2 L1022.1 410.3 L1015.0 407.4 L1007.8 404.4 L1000.5 401.4 L993.2 398.3 L985.8 395.2 L978.3 392.1 L970.7 388.8 L963.1 385.6 L955.4 382.2 L947.6 378.8 L939.7 375.3 L931.8 371.8 L923.7 368.2 L915.6 364.5 L907.4 360.7 L899.0 356.9 L890.6 353.0 L882.1 349.0 L873.5 344.9 L864.7 340.7 L855.9 336.4 L846.9 332.0 L837.8 327.5 L828.6 322.9 L819.3 318.2 L809.8 313.3 L800.2 308.3 L790.5 303.2 L780.6 297.9 L770.5 292.5 L760.3 286.9 L749.9 281.1 L739.3 275.1 L728.6 268.9 L717.7 262.5 L706.5 255.9 L695.2 249.0 L683.6 241.9 L671.8 234.4 L659.7 226.7 L647.4 218.6 L634.9 210.1 L622.0 201.2 L608.8 191.9 L595.3 182.0 L581.4 171.6 L567.2 160.5 L552.6 148.8 L537.5 136.2 L522.0 122.7 L506.0 108.1 L489.5 92.3 L472.4 74.9 M1345.4 503.4 L1339.9 501.6 L1334.4 499.9 L1328.9 498.1 L1323.4 496.3 L1317.8 494.5 L1312.1 492.7 L1306.5 490.8 L1300.8 488.9 L1295.1 487.1 L1289.3 485.2 L1283.5 483.2 L1277.6 481.3 L1271.8 479.3 L1265.9 477.3 L1259.9 475.3 L1253.9 473.3 L1247.9 471.2 L1241.8 469.1 L1235.7 467.0 L1229.5 464.9 L1223.3 462.7 L1217.1 460.5 L1210.8 458.3 L1204.4 456.1 L1198.1 453.8 L1191.6 451.5 L1185.1 449.2 L1178.6 446.9 L1172.0 444.5 L1165.4 442.1 L1158.7 439.6 L1152.0 437.2 L1145.2 434.6 L1138.4 432.1 L1131.5 429.5 L1124.5 426.9 L1117.5 424.2 L1110.4 421.5 L1103.3 418.8 L1096.1 416.0 L1088.8 413.2 L1081.5 410.3 L1074.1 407.4 L1066.6 404.4 L1059.0 401.4 L1051.4 398.3 L1043.7 395.2 L1036.0 392.1 L1028.1 388.8 L1020.2 385.6 L1012.2 382.2 L1004.1 378.8 L995.9 375.3 L987.7 371.8 L979.3 368.2 L970.8 364.5 L962.3 360.7 L953.6 356.9 L944.9 353.0 L936.0 349.0 L927.0 344.9 L918.0 340.7 L908.7 336.4 L899.4 332.0 L890.0 327.5 L880.4 322.9 L870.7 318.2 L860.8 313.3 L850.8 308.3 L840.6 303.2 L830.3 297.9 L819.8 292.5 L809.2 286.9 L798.4 281.1 L787.3 275.1 L776.1 268.9 L764.7 262.5 L753.1 255.9 L741.3 249.0 L729.2 241.9 L716.8 234.4 L704.2 226.7 L691.4 218.6 L678.2 210.1 L664.7 201.2 L650.9 191.9 L636.8 182.0 L622.3 171.6 L607.3 160.5 L592.0 148.8 L576.2 136.2 L559.8 122.7 L543.0 108.1 L525.5 92.3 L507.5 74.9 M1414.1 503.4 L1408.4 501.6 L1402.8 499.9 L1397.0 498.1 L1391.3 496.3 L1385.5 494.5 L1379.7 492.7 L1373.8 490.8 L1367.9 488.9 L1362.0 487.1 L1356.0 485.2 L1350.0 483.2 L1344.0 481.3 L1337.9 479.3 L1331.8 477.3 L1325.6 475.3 L1319.4 473.3 L1313.2 471.2 L1306.9 469.1 L1300.6 467.0 L1294.2 464.9 L1287.8 462.7 L1281.3 460.5 L1274.8 458.3 L1268.2 456.1 L1261.6 453.8 L1255.0 451.5 L1248.2 449.2 L1241.5 446.9 L1234.7 444.5 L1227.8 442.1 L1220.9 439.6 L1213.9 437.2 L1206.9 434.6 L1199.8 432.1 L1192.6 429.5 L1185.4 426.9 L1178.2 424.2 L1170.8 421.5 L1163.4 418.8 L1156.0 416.0 L1148.4 413.2 L1140.8 410.3 L1133.1 407.4 L1125.4 404.4 L1117.6 401.4 L1109.7 398.3 L1101.7 395.2 L1093.7 392.1 L1085.5 388.8 L1077.3 385.6 L1069.0 382.2 L1060.6 378.8 L1052.1 375.3 L1043.5 371.8 L1034.9 368.2 L1026.1 364.5 L1017.2 360.7 L1008.2 356.9 L999.1 353.0 L989.9 349.0 L980.6 344.9 L971.2 340.7 L961.6 336.4 L951.9 332.0 L942.1 327.5 L932.1 322.9 L922.0 318.2 L911.8 313.3 L901.4 308.3 L890.8 303.2 L880.1 297.9 L869.2 292.5 L858.1 286.9 L846.8 281.1 L835.4 275.1 L823.7 268.9 L811.8 262.5 L799.7 255.9 L787.3 249.0 L774.7 241.9 L761.9 234.4 L748.7 226.7 L735.3 218.6 L721.6 210.1 L707.5 201.2 L693.1 191.9 L678.3 182.0 L663.1 171.6 L647.4 160.5 L631.4 148.8 L614.8 136.2 L597.6 122.7 L579.9 108.1 L561.6 92.3 L542.5 74.9 M1482.8 503.4 L1477.0 501.6 L1471.1 499.9 L1465.2 498.1 L1459.2 496.3 L1453.3 494.5 L1447.2 492.7 L1441.2 490.8 L1435.1 488.9 L1429.0 487.1 L1422.8 485.2 L1416.6 483.2 L1410.4 481.3 L1404.1 479.3 L1397.7 477.3 L1391.4 475.3 L1385.0 473.3 L1378.5 471.2 L1372.0 469.1 L1365.5 467.0 L1358.9 464.9 L1352.2 462.7 L1345.5 460.5 L1338.8 458.3 L1332.0 456.1 L1325.2 453.8 L1318.3 451.5 L1311.4 449.2 L1304.4 446.9 L1297.3 444.5 L1290.2 442.1 L1283.0 439.6 L1275.8 437.2 L1268.6 434.6 L1261.2 432.1 L1253.8 429.5 L1246.4 426.9 L1238.8 424.2 L1231.2 421.5 L1223.6 418.8 L1215.9 416.0 L1208.1 413.2 L1200.2 410.3 L1192.2 407.4 L1184.2 404.4 L1176.1 401.4 L1168.0 398.3 L1159.7 395.2 L1151.4 392.1 L1142.9 388.8 L1134.4 385.6 L1125.8 382.2 L1117.1 378.8 L1108.3 375.3 L1099.4 371.8 L1090.4 368.2 L1081.3 364.5 L1072.1 360.7 L1062.8 356.9 L1053.4 353.0 L1043.9 349.0 L1034.2 344.9 L1024.4 340.7 L1014.5 336.4 L1004.4 332.0 L994.2 327.5 L983.9 322.9 L973.4 318.2 L962.8 313.3 L952.0 308.3 L941.0 303.2 L929.8 297.9 L918.5 292.5 L907.0 286.9 L895.3 281.1 L883.4 275.1 L871.2 268.9 L858.9 262.5 L846.3 255.9 L833.4 249.0 L820.3 241.9 L806.9 234.4 L793.2 226.7 L779.3 218.6 L764.9 210.1 L750.3 201.2 L735.2 191.9 L719.8 182.0 L703.9 171.6 L687.6 160.5 L670.7 148.8 L653.4 136.2 L635.4 122.7 L616.9 108.1 L597.6 92.3 L577.6 74.9 M1551.5 503.4 L1545.5 501.6 L1539.4 499.9 L1533.3 498.1 L1527.2 496.3 L1521.0 494.5 L1514.8 492.7 L1508.6 490.8 L1502.3 488.9 L1495.9 487.1 L1489.6 485.2 L1483.2 483.2 L1476.7 481.3 L1470.2 479.3 L1463.7 477.3 L1457.1 475.3 L1450.5 473.3 L1443.8 471.2 L1437.1 469.1 L1430.3 467.0 L1423.5 464.9 L1416.7 462.7 L1409.8 460.5 L1402.8 458.3 L1395.8 456.1 L1388.7 453.8 L1381.6 451.5 L1374.5 449.2 L1367.2 446.9 L1359.9 444.5 L1352.6 442.1 L1345.2 439.6 L1337.7 437.2 L1330.2 434.6 L1322.6 432.1 L1315.0 429.5 L1307.3 426.9 L1299.5 424.2 L1291.7 421.5 L1283.7 418.8 L1275.8 416.0 L1267.7 413.2 L1259.5 410.3 L1251.3 407.4 L1243.0 404.4 L1234.7 401.4 L1226.2 398.3 L1217.7 395.2 L1209.0 392.1 L1200.3 388.8 L1191.5 385.6 L1182.6 382.2 L1173.6 378.8 L1164.5 375.3 L1155.3 371.8 L1146.0 368.2 L1136.6 364.5 L1127.1 360.7 L1117.4 356.9 L1107.7 353.0 L1097.8 349.0 L1087.8 344.9 L1077.6 340.7 L1067.3 336.4 L1056.9 332.0 L1046.4 327.5 L1035.6 322.9 L1024.8 318.2 L1013.7 313.3 L1002.5 308.3 L991.2 303.2 L979.6 297.9 L967.9 292.5 L955.9 286.9 L943.8 281.1 L931.4 275.1 L918.8 268.9 L906.0 262.5 L892.9 255.9 L879.5 249.0 L865.9 241.9 L852.0 234.4 L837.7 226.7 L823.2 218.6 L808.3 210.1 L793.0 201.2 L777.3 191.9 L761.2 182.0 L744.7 171.6 L727.7 160.5 L710.1 148.8 L692.0 136.2 L673.2 122.7 L653.8 108.1 L633.7 92.3 L612.7 74.9 M1620.2 503.4 L1614.0 501.6 L1607.7 499.9 L1601.4 498.1 L1595.1 496.3 L1588.8 494.5 L1582.4 492.7 L1575.9 490.8 L1569.4 488.9 L1562.9 487.1 L1556.3 485.2 L1549.7 483.2 L1543.1 481.3 L1536.4 479.3 L1529.6 477.3 L1522.9 475.3 L1516.0 473.3 L1509.1 471.2 L1502.2 469.1 L1495.2 467.0 L1488.2 464.9 L1481.1 462.7 L1474.0 460.5 L1466.8 458.3 L1459.6 456.1 L1452.3 453.8 L1445.0 451.5 L1437.6 449.2 L1430.1 446.9 L1422.6 444.5 L1415.0 442.1 L1407.4 439.6 L1399.7 437.2 L1391.9 434.6 L1384.1 432.1 L1376.2 429.5 L1368.2 426.9 L1360.2 424.2 L1352.1 421.5 L1343.9 418.8 L1335.6 416.0 L1327.3 413.2 L1318.9 410.3 L1310.4 407.4 L1301.9 404.4 L1293.2 401.4 L1284.5 398.3 L1275.6 395.2 L1266.7 392.1 L1257.7 388.8 L1248.6 385.6 L1239.4 382.2 L1230.1 378.8 L1220.7 375.3 L1211.2 371.8 L1201.6 368.2 L1191.8 364.5 L1182.0 360.7 L1172.0 356.9 L1161.9 353.0 L1151.7 349.0 L1141.3 344.9 L1130.8 340.7 L1120.2 336.4 L1109.4 332.0 L1098.5 327.5 L1087.4 322.9 L1076.1 318.2 L1064.7 313.3 L1053.1 308.3 L1041.3 303.2 L1029.4 297.9 L1017.2 292.5 L1004.8 286.9 L992.2 281.1 L979.4 275.1 L966.3 268.9 L953.0 262.5 L939.5 255.9 L925.6 249.0 L911.5 241.9 L897.0 234.4 L882.2 226.7 L867.1 218.6 L851.6 210.1 L835.8 201.2 L819.5 191.9 L802.7 182.0 L785.5 171.6 L767.8 160.5 L749.5 148.8 L730.6 136.2 L711.0 122.7 L690.8 108.1 L669.7 92.3 L647.7 74.9"/>
<path stroke="#00ff00" stroke-width="0.99" d="M239.3 503.4 L237.2 501.6 M234.7 499.6 L231.8 497.2 L227.7 493.9 M222.8 489.9 L219.7 487.4 L215.9 484.2 M211.5 480.6 L208.7 478.3 M299.8 503.4 L297.8 501.6 M295.0 499.3 L292.3 496.9 L289.4 494.5 L288.0 493.3 M283.2 489.3 L280.3 486.7 L276.4 483.5 M271.8 479.6 L268.6 477.0 L264.9 473.9 M260.4 470.2 L257.9 468.1 L255.3 466.0 L253.4 464.3 M248.5 460.3 L245.8 458.1 L243.1 455.8 L241.8 454.7 M237.0 450.7 L233.8 448.1 M354.3 503.4 L352.2 501.4 M349.4 498.7 L346.9 496.3 L344.4 493.9 L342.4 492.1 M337.7 487.7 L335.0 485.2 L332.1 482.6 L330.7 481.3 M326.3 477.3 L323.2 474.6 L319.4 471.2 M314.6 467.0 L312.1 464.9 L309.6 462.7 L307.7 461.1 M302.9 456.9 L300.2 454.7 L297.6 452.4 L296.2 451.3 M291.4 447.2 L288.6 444.8 L284.6 441.5 M279.5 437.2 L276.6 434.6 L272.8 431.4 M268.0 427.4 L265.5 425.3 L263.0 423.1 L261.0 421.5 M401.7 503.4 L399.9 501.2 M397.6 498.6 L395.0 495.7 L392.9 493.3 L391.2 491.4 M386.8 486.7 L384.4 484.2 L382.0 481.6 L380.4 480.0 M375.8 475.3 L373.1 472.6 L370.3 469.8 L368.8 468.4 M364.1 463.8 L361.0 460.9 L358.6 458.6 L357.4 457.5 M352.5 453.0 L350.0 450.7 L347.5 448.3 L345.8 446.9 M340.8 442.4 L338.1 439.9 L334.2 436.5 M329.2 432.1 L326.2 429.5 L323.5 427.1 L322.3 426.1 M317.3 421.8 L314.8 419.6 L312.2 417.4 L310.6 416.0 M305.6 411.7 L302.9 409.4 L300.2 407.1 L298.8 405.9 M293.9 401.7 L291.1 399.3 L287.1 395.9 M442.3 503.4 L440.8 501.2 M438.9 498.6 L436.3 495.0 L433.6 491.3 M430.1 486.7 L428.2 484.2 L426.1 481.6 L424.8 480.0 M421.0 475.3 L418.7 472.6 L416.4 469.8 L415.2 468.4 M411.1 463.8 L408.5 460.9 L404.8 456.8 M400.2 451.9 L397.6 449.2 L395.3 446.9 L393.9 445.4 M388.8 440.2 L386.3 437.8 L383.7 435.3 L382.1 433.7 M377.0 428.8 L374.2 426.2 L370.3 422.5 M365.3 417.9 L362.9 415.7 L360.4 413.5 L358.8 412.0 M353.7 407.4 L351.0 405.0 L348.3 402.6 L346.9 401.4 M341.7 396.8 L338.8 394.3 L336.3 392.1 L335.1 391.0 M329.8 386.4 L327.2 384.2 L324.7 381.9 L323.4 380.8 M318.1 376.2 L315.4 373.9 L312.7 371.5 L311.3 370.3 M306.2 365.8 L304.6 364.5 M476.6 503.4 L475.4 501.2 M474.0 498.6 L471.9 495.0 L469.8 491.3 M466.9 486.6 L464.6 482.7 L462.7 479.8 M459.7 475.3 L457.9 472.6 L456.0 469.8 L455.0 468.4 M451.7 463.8 L449.6 460.9 L446.5 456.8 M442.7 451.9 L440.3 448.8 L437.4 445.3 M433.2 440.2 L431.0 437.8 L428.9 435.3 L427.5 433.7 M422.8 428.5 L420.4 425.9 L417.9 423.2 L416.6 421.9 M412.0 417.0 L409.3 414.2 L406.8 411.7 L405.4 410.3 M400.1 405.0 L397.6 402.6 L395.1 400.2 L393.5 398.7 M388.2 393.7 L385.5 391.1 L381.8 387.8 M376.4 382.8 L373.9 380.5 L371.4 378.2 L369.8 376.8 M364.6 372.1 L361.9 369.7 L359.2 367.3 L357.8 366.0 M352.7 361.6 L350.3 359.4 L347.8 357.2 L345.9 355.5 M340.4 350.7 L337.8 348.4 L334.1 345.2 M505.9 503.4 L505.0 501.2 M503.8 498.6 L502.2 495.0 L500.6 491.3 M498.3 486.6 L496.5 482.7 L495.0 479.8 M492.7 475.3 L490.5 471.2 L489.0 468.4 M486.4 463.8 L484.7 460.9 L482.3 456.8 M479.2 451.9 L477.2 448.8 L474.9 445.3 M471.6 440.4 L469.3 437.2 L466.6 433.4 M463.1 428.5 L461.1 425.9 L459.0 423.2 L457.9 421.9 M454.1 417.0 L451.8 414.2 L448.4 410.3 M444.0 405.2 L441.7 402.6 L439.6 400.2 L437.9 398.3 M433.2 393.3 L430.8 390.8 L428.3 388.2 L426.8 386.5 M421.5 381.2 L419.1 378.8 L416.8 376.5 L415.0 374.7 M409.8 369.7 L407.2 367.3 L404.6 364.8 L403.0 363.3 M397.7 358.3 L395.3 356.1 L392.9 353.8 L391.3 352.4 M385.6 347.2 L383.0 344.9 L380.4 342.5 L379.1 341.3 M373.6 336.4 L371.2 334.2 L368.7 332.0 L367.2 330.6 M361.8 325.8 L359.2 323.5 L356.5 321.1 L355.2 320.0 M531.0 503.4 L530.3 501.2 M529.4 498.6 L528.2 495.0 L526.9 491.3 M525.2 486.6 L523.8 482.7 L522.6 479.8 M520.9 475.3 L519.2 471.2 L517.8 468.1 M516.0 463.8 L514.3 460.2 L512.8 456.8 M510.4 451.9 L508.8 448.8 L507.0 445.3 M504.4 440.4 L502.6 437.2 L500.5 433.4 M497.7 428.6 L495.5 425.1 L493.5 421.9 M490.4 417.0 L488.5 414.2 L485.8 410.3 M482.2 405.2 L480.0 402.2 L477.1 398.3 M473.3 393.3 L471.2 390.8 L469.1 388.2 L467.8 386.5 M463.3 381.2 L460.9 378.5 L457.6 374.6 M452.9 369.4 L450.6 367.0 L448.3 364.5 L446.9 362.9 M441.7 357.6 L439.1 355.0 L436.6 352.4 L435.2 351.0 M429.6 345.5 L427.2 343.1 L424.7 340.7 L423.1 339.2 M417.6 334.0 L415.3 331.7 L412.9 329.5 L411.0 327.8 M405.4 322.6 L402.9 320.3 L400.3 317.9 L398.9 316.7 M393.4 311.7 L391.0 309.4 L388.5 307.2 L386.9 305.8 M381.2 300.6 L378.6 298.2 L376.2 296.0 L374.7 294.7 M552.8 503.4 L552.3 501.2 M551.6 498.6 L550.7 495.0 L549.7 491.3 M548.4 486.6 L547.3 482.7 L546.5 479.8 M545.1 475.3 L543.8 471.2 L542.8 468.1 M541.4 463.8 L539.9 459.4 L538.9 456.7 M537.1 451.9 L535.9 448.8 L534.5 445.3 M532.5 440.4 L531.1 437.2 L529.4 433.4 M527.3 428.6 L525.6 425.1 L524.1 422.0 M521.5 416.9 L519.7 413.5 L518.0 410.3 M515.1 405.2 L513.3 402.2 L511.1 398.3 M507.9 393.3 L505.8 390.1 L503.4 386.4 M499.8 381.2 L497.9 378.5 L495.1 374.6 M491.1 369.3 L488.8 366.4 L485.9 362.6 M481.7 357.6 L479.5 355.0 L477.3 352.3 L476.1 351.0 M471.4 345.6 L469.1 343.1 L466.9 340.7 L465.2 338.9 M459.9 333.3 L457.5 330.7 L455.0 328.2 L453.8 327.0 M448.3 321.4 L445.9 319.1 L443.5 316.7 L441.6 314.8 M436.0 309.4 L433.6 307.2 L431.2 304.9 L429.7 303.5 M423.7 297.9 L421.2 295.5 L418.8 293.3 L417.6 292.2 M411.5 286.6 L409.0 284.3 L406.5 282.0 L405.2 280.8 M399.3 275.4 L396.9 273.2 L394.4 270.9 L393.2 269.8 M572.0 503.4 L571.6 501.2 M571.1 498.6 L570.4 495.0 L569.7 491.3 M568.7 486.6 L567.9 482.7 L567.3 479.8 M566.2 475.3 L565.3 471.2 L564.5 468.1 M563.4 463.8 L562.3 459.4 L561.5 456.7 M560.3 452.1 L559.3 448.8 L558.3 445.3 M556.7 440.4 L555.7 437.2 L554.4 433.4 M552.8 428.6 L551.5 425.1 L550.3 422.0 M548.3 416.9 L546.8 413.2 L545.6 410.3 M543.4 405.2 L542.0 402.2 L540.2 398.3 M537.7 393.3 L536.1 390.1 L534.2 386.4 M531.5 381.4 L529.6 377.9 L527.6 374.6 M524.4 369.3 L522.6 366.4 L520.2 362.6 M516.6 357.3 L514.5 354.3 L512.2 351.0 M508.2 345.6 L506.1 342.8 L503.1 338.9 M498.5 333.3 L496.4 330.7 L494.3 328.2 L493.2 326.9 M488.2 321.2 L485.8 318.5 L483.6 316.1 L482.5 314.8 M477.3 309.3 L474.9 306.7 L472.4 304.2 L470.9 302.6 M465.4 297.0 L463.0 294.6 L460.5 292.2 L458.9 290.6 M453.0 284.9 L450.6 282.5 L448.2 280.2 L446.9 279.0 M440.7 273.2 L438.4 270.9 L435.9 268.6 L434.7 267.5 M428.5 261.7 L426.1 259.5 L423.7 257.3 L422.2 255.9 M416.1 250.2 L413.7 247.9 L411.0 245.5 M589.0 503.4 L588.7 501.2 M588.3 498.6 L587.8 495.0 L587.3 491.3 M586.6 486.6 L586.0 482.7 L585.5 479.8 M584.8 475.3 L584.1 471.2 L583.5 468.1 M582.8 463.8 L581.9 459.4 L581.4 456.7 M580.4 452.1 L579.5 447.7 L578.9 445.3 M577.8 440.4 L577.0 437.2 L576.1 433.4 M574.9 428.6 L573.9 425.1 L573.0 422.0 M571.5 416.9 L570.4 413.2 L569.5 410.3 M567.7 404.9 L566.5 401.4 L565.4 398.3 M563.5 393.3 L562.2 390.1 L560.8 386.4 M558.7 381.4 L557.2 377.9 L555.8 374.9 M553.1 369.3 L551.7 366.4 L549.8 362.6 M547.0 357.3 L545.3 354.2 L543.5 351.0 M540.3 345.6 L538.6 342.8 L536.1 338.9 M532.6 333.5 L530.5 330.5 L528.0 326.9 M523.9 321.2 L521.8 318.5 L518.9 314.7 M514.6 309.3 L512.5 306.7 L510.4 304.2 L509.3 302.9 M504.1 296.9 L501.8 294.3 L499.6 291.9 L498.5 290.6 M493.0 284.6 L490.7 282.2 L488.5 279.9 L487.1 278.4 M481.1 272.3 L478.7 269.9 L476.3 267.5 L475.1 266.3 M468.8 260.1 L466.4 257.9 L464.1 255.6 L462.6 254.2 M456.6 248.4 L454.1 246.1 L451.7 243.8 L450.3 242.4 M444.2 236.7 L441.8 234.4 L439.4 232.2 L438.0 230.9 M431.7 225.0 L429.2 222.7 M604.1 503.4 L603.9 501.2 M603.7 498.6 L603.4 495.0 L603.0 491.3 M602.5 486.6 L602.1 482.7 L601.8 479.8 M601.3 475.3 L600.8 471.2 L600.4 468.1 M599.9 463.8 L599.3 459.4 L598.9 456.7 M598.2 452.1 L597.5 447.5 L597.2 445.3 M596.4 440.4 L595.8 437.2 L595.1 433.4 M594.2 428.6 L593.5 425.1 L592.9 422.0 M591.8 416.9 L591.0 413.2 L590.3 410.3 M589.0 404.9 L587.9 400.9 L587.3 398.3 M585.8 393.3 L584.9 390.1 L583.8 386.4 M582.2 381.4 L581.1 377.9 L580.0 374.9 M578.1 369.5 L576.7 365.9 L575.5 362.6 M573.3 357.3 L572.0 354.2 L570.6 351.0 M567.9 345.3 L566.3 342.0 L564.8 339.0 M562.0 333.5 L560.4 330.5 L558.3 326.8 M555.1 321.3 L553.2 318.2 L551.0 314.7 M547.3 309.0 L545.3 306.1 L543.1 302.9 M538.8 296.9 L536.7 294.2 L534.1 290.7 M529.2 284.6 L527.1 282.0 L524.1 278.4 M518.9 272.3 L516.7 269.9 L514.4 267.3 L513.3 266.1 M507.8 260.1 L505.5 257.7 L503.2 255.3 L502.0 254.0 M496.0 247.8 L493.6 245.5 L491.2 243.1 L489.7 241.6 M483.7 235.6 L481.3 233.3 L478.8 230.9 L477.4 229.5 M471.2 223.5 L468.8 221.2 L466.3 218.9 L465.1 217.7 M458.6 211.5 L456.1 209.2 L453.7 206.9 L452.4 205.7 M617.8 503.4 L617.7 501.2 M617.6 498.6 L617.4 495.0 L617.1 491.3 M616.8 486.6 L616.6 482.7 L616.4 479.8 M616.1 475.3 L615.7 471.2 L615.5 468.1 M615.1 463.8 L614.7 459.4 L614.5 456.7 M614.1 452.1 L613.6 447.5 L613.3 445.3 M612.8 440.4 L612.4 437.2 L611.9 433.4 M611.3 428.6 L610.9 425.1 L610.4 422.0 M609.6 416.9 L609.1 413.2 L608.6 410.3 M607.6 404.9 L606.9 400.9 L606.4 398.3 M605.4 393.3 L604.7 390.1 L603.9 386.4 M602.7 381.4 L601.9 377.9 L601.1 374.9 M599.7 369.5 L598.7 365.9 L597.8 362.6 M596.1 357.3 L595.1 354.2 L594.1 351.0 M592.1 345.3 L590.8 342.0 L589.7 339.0 M587.4 333.3 L586.1 330.2 L584.6 326.8 M582.1 321.3 L580.6 318.2 L579.0 314.9 M576.0 309.0 L574.4 306.1 L572.6 302.8 M569.0 296.8 L567.3 293.8 L565.3 290.7 M561.4 284.7 L559.4 281.8 L557.1 278.4 M552.7 272.4 L550.6 269.6 L547.9 266.1 M543.2 260.2 L541.1 257.6 L538.1 254.0 M532.7 247.7 L530.4 245.2 L528.2 242.8 L527.1 241.6 M521.4 235.4 L519.1 233.0 L516.9 230.6 L515.4 229.1 M509.5 223.0 L507.1 220.6 L504.8 218.3 L503.3 216.8 M497.1 210.7 L494.8 208.3 L492.4 206.0 L490.9 204.6 M484.4 198.3 L482.0 196.0 L479.7 193.8 L478.3 192.4 M471.8 186.2 L469.5 184.0 L467.4 182.0 M630.3 503.4 L630.2 501.2 M630.1 498.6 L630.0 495.0 L629.9 491.3 M629.8 486.6 L629.7 482.7 L629.6 479.8 M629.4 475.3 L629.2 471.2 L629.1 468.1 M628.9 463.8 L628.7 459.4 L628.5 456.7 M628.3 452.1 L628.0 447.5 L627.8 445.1 M627.5 440.4 L627.3 437.2 L627.0 433.4 M626.6 428.6 L626.3 425.1 L626.0 422.0 M625.5 416.9 L625.1 413.2 L624.8 410.3 M624.2 404.9 L623.7 400.9 L623.4 398.3 M622.7 393.3 L622.2 390.1 L621.6 386.4 M620.8 381.4 L620.2 377.9 L619.7 374.9 M618.7 369.5 L618.0 365.9 L617.3 362.6 M616.1 357.4 L615.4 354.2 L614.6 351.0 M613.1 345.3 L612.2 342.0 L611.4 339.0 M609.7 333.3 L608.5 329.8 L607.5 326.8 M605.7 321.3 L604.5 318.2 L603.3 314.9 M601.0 309.2 L599.6 305.8 L598.3 302.8 M595.5 296.8 L594.0 293.6 L592.5 290.5 M589.5 284.7 L587.9 281.8 L586.0 278.5 M582.5 272.4 L580.8 269.6 L578.6 266.1 M574.5 260.0 L572.6 257.2 L570.2 253.9 M565.8 247.7 L563.8 245.2 L561.0 241.5 M556.0 235.4 L553.9 232.8 L550.9 229.3 M545.4 223.0 L543.2 220.5 L540.9 218.0 L539.8 216.8 M533.9 210.4 L531.7 208.1 L529.4 205.7 L528.0 204.2 M522.0 198.0 L519.7 195.7 L517.3 193.3 L515.8 191.9 M509.4 185.5 L507.0 183.2 L504.7 180.9 L503.2 179.4 M496.7 173.1 L494.3 170.7 L491.9 168.4 L490.7 167.3 M484.0 160.8 L483.7 160.5 M641.6 503.4 L641.6 501.2 M641.6 498.6 L641.6 495.0 L641.6 491.3 M641.6 486.6 L641.6 482.7 L641.5 479.8 M641.5 475.3 L641.5 471.2 L641.4 468.1 M641.4 463.8 L641.3 459.4 L641.2 456.7 M641.1 452.1 L641.0 447.5 L640.9 445.1 M640.8 440.4 L640.7 437.2 L640.5 433.4 M640.3 428.6 L640.2 425.1 L640.0 422.0 M639.8 416.9 L639.5 413.2 L639.4 410.3 M639.0 404.9 L638.7 400.9 L638.5 398.3 M638.0 393.1 L637.7 389.6 L637.4 386.4 M636.9 381.4 L636.5 377.9 L636.1 374.9 M635.5 369.5 L635.0 365.9 L634.5 362.6 M633.7 357.4 L633.1 353.5 L632.6 351.0 M631.6 345.3 L631.0 342.0 L630.4 339.0 M629.1 333.3 L628.3 329.8 L627.7 327.1 M626.2 321.3 L625.4 318.2 L624.5 314.9 M622.8 309.2 L621.7 305.8 L620.7 302.8 M618.6 296.8 L617.5 293.6 L616.3 290.5 M614.0 284.8 L612.6 281.5 L611.3 278.5 M608.5 272.4 L607.0 269.3 L605.4 266.1 M602.2 260.0 L600.5 257.0 L598.8 254.0 M595.0 247.6 L593.2 244.8 L591.1 241.5 M587.1 235.5 L585.1 232.7 L582.7 229.3 M578.0 223.0 L575.9 220.3 L573.0 216.6 M568.0 210.4 L565.8 207.9 L562.8 204.4 M557.0 197.8 L554.8 195.4 L552.7 193.0 L551.6 191.9 M545.4 185.2 L543.1 182.9 L540.8 180.5 L539.6 179.3 M533.2 172.8 L530.9 170.5 L528.6 168.2 L527.2 166.7 M520.7 160.3 L518.3 157.9 L516.0 155.6 L514.5 154.2 M507.9 147.7 L505.6 145.4 L502.7 142.6 M652.1 503.4 L652.1 501.2 M652.2 498.6 L652.3 495.0 L652.3 491.3 M652.4 486.6 L652.5 482.7 L652.5 479.8 M652.6 475.3 L652.6 471.2 L652.7 468.1 M652.7 463.8 L652.8 459.4 L652.8 456.7 M652.8 452.1 L652.8 447.5 L652.9 445.1 M652.9 440.4 L652.8 437.2 L652.8 433.4 M652.8 428.6 L652.8 425.1 L652.7 422.0 M652.6 416.9 L652.5 413.2 L652.5 410.3 M652.3 404.9 L652.2 400.9 L652.1 398.3 M651.9 393.1 L651.7 389.6 L651.5 386.4 M651.3 381.4 L651.0 377.9 L650.8 374.9 M650.4 369.5 L650.1 365.9 L649.9 362.6 M649.4 357.4 L649.0 353.5 L648.7 351.0 M648.0 345.3 L647.6 342.0 L647.2 339.0 M646.3 333.3 L645.8 329.8 L645.3 327.1 M644.3 321.0 L643.7 317.8 L643.1 314.9 M641.9 309.2 L641.1 305.8 L640.4 302.8 M638.9 297.0 L638.0 293.6 L637.1 290.5 M635.4 284.8 L634.4 281.5 L633.4 278.5 M631.3 272.4 L630.1 269.3 L628.9 266.1 M626.4 260.1 L625.1 257.0 L623.8 254.0 M620.9 247.8 L619.3 244.8 L617.7 241.5 M614.2 235.2 L612.6 232.3 L610.8 229.2 M607.0 223.0 L605.2 220.3 L603.0 216.8 M598.6 210.4 L596.6 207.7 L594.2 204.4 M589.2 197.9 L587.2 195.3 L584.4 191.9 M579.0 185.4 L576.9 182.9 L574.8 180.5 L573.7 179.3 M567.9 172.8 L565.7 170.4 L563.4 168.0 L562.3 166.8 M555.9 160.0 L553.6 157.7 L551.4 155.3 L550.2 154.2 M543.5 147.3 L541.1 145.0 L538.8 142.6 L537.6 141.4 M530.9 134.8 L528.6 132.5 L526.3 130.2 L524.8 128.7 M661.7 503.4 L661.8 501.2 M661.9 498.6 L662.1 495.0 L662.2 491.3 M662.4 486.6 L662.5 482.7 L662.6 479.8 M662.8 475.3 L662.9 471.2 L663.0 468.1 M663.2 463.8 L663.3 459.4 L663.4 456.7 M663.6 452.1 L663.7 447.5 L663.8 445.1 M663.9 440.4 L664.0 437.2 L664.0 433.4 M664.1 428.6 L664.2 425.1 L664.3 422.0 M664.3 416.9 L664.4 413.2 L664.4 410.3 M664.4 404.9 L664.4 400.9 L664.4 398.3 M664.4 393.1 L664.4 389.6 L664.3 386.4 M664.2 381.4 L664.2 377.9 L664.1 374.9 M663.9 369.5 L663.8 365.9 L663.6 362.6 M663.4 357.4 L663.2 353.5 L663.0 351.0 M662.7 345.3 L662.4 342.0 L662.2 339.0 M661.7 333.3 L661.3 329.8 L661.0 327.1 M660.4 321.0 L660.0 317.8 L659.6 314.9 M658.8 309.2 L658.2 305.8 L657.7 302.8 M656.7 297.0 L656.0 293.4 L655.5 290.5 M654.3 284.8 L653.5 281.5 L652.8 278.5 M651.2 272.5 L650.4 269.3 L649.5 266.1 M647.6 260.1 L646.5 256.7 L645.6 254.0 M643.4 247.8 L642.2 244.7 L640.9 241.5 M638.3 235.2 L636.9 232.1 L635.5 229.0 M632.6 223.0 L631.0 220.1 L629.2 216.7 M625.8 210.5 L624.0 207.5 L622.1 204.3 M618.1 198.0 L616.3 195.2 L614.0 191.9 M609.3 185.3 L607.3 182.7 L604.9 179.4 M599.5 172.6 L597.4 170.0 L594.7 166.8 M588.9 159.9 L586.7 157.5 L583.8 154.2 M577.5 147.3 L575.3 145.0 L573.1 142.6 L572.0 141.4 M565.3 134.5 L563.1 132.2 L560.8 129.9 L559.7 128.7 M552.9 121.9 L550.6 119.6 L548.4 117.3 L546.9 115.8 M540.1 109.0 L539.2 108.1 M670.7 503.4 L670.8 501.2 M671.0 498.6 L671.2 495.0 L671.4 491.3 M671.6 486.6 L671.8 482.7 L672.0 479.8 M672.2 475.3 L672.4 471.2 L672.6 468.1 M672.8 463.8 L673.1 459.4 L673.2 456.7 M673.4 452.1 L673.7 447.5 L673.8 445.1 M674.0 440.4 L674.2 437.2 L674.3 433.4 M674.6 428.6 L674.7 425.1 L674.8 422.0 M675.0 416.9 L675.2 413.2 L675.3 410.3 M675.5 404.9 L675.6 400.9 L675.7 398.3 M675.8 393.1 L675.9 389.6 L675.9 386.4 M676.0 381.4 L676.1 377.9 L676.1 374.9 M676.1 369.5 L676.1 365.9 L676.1 362.6 M676.1 357.4 L676.0 353.5 L676.0 351.0 M675.8 345.3 L675.8 342.0 L675.7 339.0 M675.4 333.3 L675.3 329.8 L675.1 327.1 M674.7 321.0 L674.5 317.4 L674.3 314.9 M673.8 309.2 L673.5 305.8 L673.2 302.8 M672.6 297.0 L672.1 293.4 L671.7 290.5 M670.9 284.8 L670.4 281.5 L669.9 278.5 M668.9 272.5 L668.2 268.9 L667.6 266.1 M666.3 260.1 L665.5 256.7 L664.8 253.8 M663.2 247.8 L662.3 244.7 L661.4 241.5 M659.4 235.3 L658.3 232.1 L657.2 229.0 M655.0 223.1 L653.8 220.1 L652.4 216.7 M649.7 210.5 L648.3 207.5 L646.7 204.2 M643.6 198.0 L642.0 195.1 L640.2 191.9 M636.3 185.2 L634.6 182.4 L632.6 179.3 M628.2 172.7 L626.3 169.9 L624.2 166.8 M619.0 159.9 L617.1 157.3 L614.6 154.1 M608.9 147.2 L606.9 144.8 L604.0 141.4 M598.1 134.7 L596.0 132.3 L593.8 129.9 L592.7 128.7 M586.3 121.8 L584.0 119.4 L581.8 117.1 L580.6 115.9 M574.0 109.0 L571.8 106.7 L569.5 104.4 L568.4 103.2 M561.3 96.0 L559.0 93.7 L557.5 92.3 M679.1 503.4 L679.2 501.2 M679.4 498.6 L679.6 495.0 L679.9 491.3 M680.2 486.6 L680.5 482.7 L680.7 479.8 M681.0 475.3 L681.3 471.2 L681.5 468.1 M681.8 463.8 L682.1 459.4 L682.3 456.7 M682.6 452.1 L682.9 447.5 L683.1 445.1 M683.4 440.4 L683.6 437.2 L683.9 433.4 M684.2 428.6 L684.4 425.1 L684.6 422.0 M684.9 416.9 L685.1 413.2 L685.3 410.3 M685.6 404.9 L685.8 400.9 L686.0 398.3 M686.2 393.1 L686.4 389.6 L686.6 386.4 M686.8 381.4 L686.9 377.9 L687.0 374.9 M687.2 369.5 L687.4 365.9 L687.5 362.6 M687.6 357.4 L687.7 353.5 L687.7 351.0 M687.8 345.3 L687.8 342.0 L687.9 339.0 M687.9 333.3 L687.8 329.8 L687.8 327.1 M687.7 321.0 L687.6 317.4 L687.6 314.9 M687.3 309.2 L687.2 305.8 L687.1 302.8 M686.7 297.0 L686.5 293.4 L686.3 290.6 M685.8 284.8 L685.5 281.5 L685.2 278.5 M684.5 272.5 L684.1 268.9 L683.7 266.2 M682.8 260.1 L682.3 256.7 L681.8 253.8 M680.7 247.8 L680.1 244.7 L679.4 241.5 M678.0 235.3 L677.2 231.9 L676.4 229.0 M674.8 223.1 L673.8 219.8 L672.9 216.9 M670.8 210.5 L669.6 207.3 L668.5 204.2 M665.9 197.8 L664.6 194.6 L663.4 191.9 M660.5 185.5 L659.0 182.4 L657.4 179.4 M653.8 172.7 L652.2 169.8 L650.5 166.9 M646.4 160.2 L644.6 157.5 L642.4 154.1 M637.8 147.5 L635.9 144.9 L633.3 141.3 M628.1 134.6 L626.1 132.1 L623.3 128.7 M617.5 121.8 L615.4 119.3 L612.4 115.9 M606.2 109.0 L604.0 106.6 L601.8 104.2 L600.7 103.1 M594.2 96.2 L591.9 93.8 L589.6 91.4 L588.5 90.2 M581.7 83.2 L579.4 80.9 L577.2 78.6 L576.1 77.5 M686.9 503.4 L687.0 501.2 M687.3 498.6 L687.5 495.0 L687.8 491.3 M688.2 486.6 L688.5 482.7 L688.8 479.8 M689.1 475.3 L689.5 471.2 L689.7 468.1 M690.1 463.8 L690.5 459.4 L690.7 456.7 M691.1 452.1 L691.5 447.5 L691.7 445.1 M692.1 440.4 L692.3 437.2 L692.7 433.4 M693.1 428.6 L693.3 425.1 L693.6 422.0 M694.0 416.9 L694.3 413.2 L694.5 410.3 M695.0 404.9 L695.3 400.9 L695.5 398.3 M695.9 393.1 L696.1 389.6 L696.3 386.4 M696.7 381.4 L696.9 377.9 L697.1 374.9 M697.4 369.5 L697.7 365.9 L697.9 362.6 M698.1 357.4 L698.3 353.5 L698.5 351.0 M698.7 345.3 L698.9 342.0 L699.0 339.0 M699.2 333.3 L699.3 329.8 L699.3 327.1 M699.5 321.0 L699.5 317.4 L699.6 314.9 M699.6 309.2 L699.6 305.8 L699.6 302.8 M699.5 297.0 L699.4 293.4 L699.4 290.6 M699.2 284.8 L699.0 281.5 L698.9 278.5 M698.5 272.5 L698.3 268.9 L698.1 266.2 M697.6 260.1 L697.3 256.7 L697.0 253.8 M696.3 247.7 L695.8 244.3 L695.4 241.5 M694.5 235.3 L693.9 231.9 L693.5 229.3 M692.3 223.1 L691.6 219.8 L690.9 216.9 M689.4 210.5 L688.5 207.3 L687.8 204.5 M685.8 197.8 L684.8 194.6 L683.9 191.9 M681.6 185.5 L680.5 182.4 L679.2 179.2 M676.5 172.7 L675.1 169.7 L673.7 166.5 M670.5 160.2 L669.0 157.3 L667.3 154.1 M663.4 147.4 L661.8 144.7 L659.9 141.6 M655.3 134.6 L653.5 131.9 L651.2 128.6 M646.2 121.7 L644.2 119.1 L641.7 115.9 M636.2 109.1 L634.1 106.6 L631.2 103.2 M625.1 96.2 L623.0 93.8 L620.0 90.5 M613.4 83.2 L611.1 80.8 L608.1 77.6 M694.2 503.4 L694.4 501.2 M694.6 498.6 L695.0 495.0 L695.3 491.3 M695.7 486.6 L696.1 482.7 L696.4 479.8 M696.8 475.3 L697.2 471.2 L697.5 468.1 M697.9 463.8 L698.3 459.4 L698.6 456.7 M699.0 452.1 L699.5 447.5 L699.7 445.3 M700.2 440.4 L700.5 437.2 L700.9 433.4 M701.3 428.6 L701.7 425.1 L702.0 422.0 M702.5 416.9 L702.8 413.2 L703.1 410.3 M703.6 404.9 L704.0 400.9 L704.3 398.3 M704.8 393.1 L705.1 389.6 L705.4 386.4 M705.8 381.4 L706.1 377.9 L706.4 374.9 M706.8 369.5 L707.2 365.9 L707.4 362.6 M707.8 357.4 L708.1 353.5 L708.3 351.0 M708.7 345.3 L709.0 342.0 L709.2 339.0 M709.5 333.3 L709.7 329.8 L709.9 327.1 M710.2 321.0 L710.4 317.4 L710.5 314.9 M710.7 309.2 L710.8 305.8 L710.9 302.8 M711.1 297.0 L711.2 293.4 L711.2 290.6 M711.3 284.8 L711.3 281.5 L711.3 278.5 M711.2 272.5 L711.1 268.9 L711.1 266.2 M710.9 260.1 L710.7 256.7 L710.6 253.8 M710.2 247.7 L710.0 244.3 L709.8 241.5 M709.2 235.3 L708.9 231.9 L708.6 229.3 M707.8 223.1 L707.4 219.8 L706.9 216.9 M705.9 210.5 L705.3 207.3 L704.8 204.5 M703.4 197.9 L702.6 194.6 L702.0 191.9 M700.3 185.3 L699.4 182.0 L698.5 179.2 M696.5 172.8 L695.4 169.7 L694.3 166.5 M691.9 160.2 L690.6 157.1 L689.3 154.0 M686.3 147.3 L684.9 144.4 L683.4 141.5 M679.7 134.5 L678.1 131.7 L676.3 128.6 M672.1 121.7 L670.3 119.0 L668.3 115.9 M663.4 108.8 L661.5 106.2 L659.3 103.3 M653.8 96.2 L651.8 93.6 L649.2 90.4 M643.2 83.2 L641.0 80.7 L638.1 77.4"/>
<path stroke="#4c0090" stroke-width="0.99" d="M148.1 502.9 L150.0 500.7 L151.9 498.6 L153.7 496.4 M159.3 489.9 L161.1 487.7 L163.0 485.6 L164.9 483.4 M170.5 476.8 L172.4 474.7 L174.2 472.5 L176.1 470.3 M181.7 463.8 L183.6 461.6 L185.5 459.4 L187.4 457.3 M193.1 450.7 L194.9 448.5 L196.8 446.3 L198.7 444.2 M204.4 437.5 L206.3 435.4 L208.2 433.2 L210.1 431.0 M215.8 424.4 L217.7 422.2 L219.6 420.0 L221.5 417.9 M227.3 411.2 L229.2 409.0 L231.1 406.9 L233.0 404.7 M238.8 398.0 L240.7 395.8 L242.6 393.6 L244.5 391.5 M250.4 384.7 L252.3 382.6 L254.2 380.4 L256.1 378.2 M262.1 371.5 L264.0 369.3 L265.9 367.1 L267.8 365.0 M273.8 358.2 L275.7 356.0 L277.6 353.8 L279.5 351.7 M285.5 344.8 L287.4 342.7 L289.3 340.5 L291.3 338.3 M297.3 331.5 L299.2 329.3 L301.1 327.1 L303.1 325.0 M309.2 318.1 L311.1 315.9 L313.0 313.8 L314.9 311.6 M321.1 304.7 L323.0 302.5 L324.9 300.3 L326.9 298.2 M333.0 291.2 L335.0 289.1 L336.9 286.9 L338.8 284.7 M345.1 277.7 L347.0 275.6 L348.9 273.4 L350.9 271.2 M357.1 264.2 L359.1 262.1 L361.0 259.9 L363.0 257.7 M369.3 250.7 L371.2 248.5 L373.1 246.4 L375.1 244.2 M381.4 237.2 L383.4 235.0 L385.3 232.8 L387.3 230.7 M393.7 223.6 L395.6 221.4 L397.6 219.2 L399.5 217.1 M406.0 209.9 L407.9 207.8 L409.9 205.6 L411.8 203.4 M418.3 196.3 L420.3 194.1 L422.2 192.0 L424.2 189.8 M430.7 182.6 L432.6 180.5 L434.6 178.3 L436.6 176.1 M443.1 168.9 L445.1 166.8 L447.1 164.6 L449.0 162.4 M455.6 155.2 L457.6 153.0 L459.6 150.9 L461.5 148.7 M468.2 141.4 L470.2 139.3 L472.1 137.1 L474.1 134.9 M480.8 127.6 L482.8 125.5 L484.7 123.3 L486.7 121.1 M493.4 113.8 L495.4 111.7 L497.4 109.5 L499.4 107.3 M506.1 100.0 L508.1 97.8 L510.1 95.6 L512.1 93.5 M518.9 86.1 L520.9 83.9 L522.9 81.8 L524.9 79.6 M194.3 502.9 L196.1 500.7 L197.9 498.6 L199.7 496.4 M205.2 489.9 L207.0 487.7 L208.8 485.6 L210.6 483.4 M216.1 476.8 L217.9 474.7 L219.7 472.5 L221.5 470.3 M227.0 463.8 L228.8 461.6 L230.6 459.4 L232.5 457.3 M238.0 450.7 L239.8 448.5 L241.7 446.3 L243.5 444.2 M249.1 437.5 L250.9 435.4 L252.7 433.2 L254.6 431.0 M260.2 424.4 L262.0 422.2 L263.9 420.0 L265.7 417.9 M271.4 411.2 L273.2 409.0 L275.0 406.9 L276.9 404.7 M282.6 398.0 L284.4 395.8 L286.3 393.6 L288.1 391.5 M293.9 384.7 L295.7 382.6 L297.6 380.4 L299.4 378.2 M305.2 371.5 L307.1 369.3 L308.9 367.1 L310.8 365.0 M316.6 358.2 L318.5 356.0 L320.4 353.8 L322.2 351.7 M328.1 344.8 L330.0 342.7 L331.8 340.5 L333.7 338.3 M339.6 331.5 L341.5 329.3 L343.4 327.1 L345.2 325.0 M351.2 318.1 L353.1 315.9 L354.9 313.8 L356.8 311.6 M362.8 304.7 L364.7 302.5 L366.6 300.3 L368.5 298.2 M374.5 291.2 L376.4 289.1 L378.3 286.9 L380.2 284.7 M386.2 277.7 L388.1 275.6 L390.0 273.4 L391.9 271.2 M398.0 264.2 L399.9 262.1 L401.8 259.9 L403.7 257.7 M409.9 250.7 L411.8 248.5 L413.7 246.4 L415.6 244.2 M421.8 237.2 L423.7 235.0 L425.6 232.8 L427.5 230.7 M433.8 223.6 L435.7 221.4 L437.6 219.2 L439.5 217.1 M445.8 209.9 L447.7 207.8 L449.6 205.6 L451.5 203.4 M457.9 196.3 L459.8 194.1 L461.7 192.0 L463.6 189.8 M470.0 182.6 L471.9 180.5 L473.8 178.3 L475.8 176.1 M482.2 168.9 L484.1 166.8 L486.0 164.6 L488.0 162.4 M494.4 155.2 L496.3 153.0 L498.3 150.9 L500.2 148.7 M506.7 141.4 L508.6 139.3 L510.6 137.1 L512.5 134.9 M519.1 127.6 L521.0 125.5 L522.9 123.3 L524.9 121.1 M531.5 113.8 L533.4 111.7 L535.4 109.5 L537.3 107.3 M543.9 100.0 L545.9 97.8 L547.8 95.6 L549.8 93.5 M556.4 86.1 L558.4 83.9 L560.3 81.8 L562.3 79.6 M260.4 502.9 L262.1 500.7 L263.8 498.6 L265.5 496.4 M270.7 489.9 L272.5 487.7 L274.2 485.6 L275.9 483.4 M281.2 476.8 L282.9 474.7 L284.6 472.5 L286.4 470.3 M291.7 463.8 L293.4 461.6 L295.1 459.4 L296.9 457.3 M302.2 450.7 L303.9 448.5 L305.7 446.3 L307.4 444.2 M312.8 437.5 L314.6 435.4 L316.3 433.2 L318.1 431.0 M323.5 424.4 L325.2 422.2 L327.0 420.0 L328.8 417.9 M334.2 411.2 L336.0 409.0 L337.7 406.9 L339.5 404.7 M345.0 398.0 L346.8 395.8 L348.6 393.6 L350.3 391.5 M355.9 384.7 L357.6 382.6 L359.4 380.4 L361.2 378.2 M366.8 371.5 L368.6 369.3 L370.3 367.1 L372.1 365.0 M377.7 358.2 L379.5 356.0 L381.3 353.8 L383.1 351.7 M388.8 344.8 L390.6 342.7 L392.4 340.5 L394.2 338.3 M399.9 331.5 L401.7 329.3 L403.5 327.1 L405.3 325.0 M411.0 318.1 L412.8 315.9 L414.6 313.8 L416.5 311.6 M422.2 304.7 L424.1 302.5 L425.9 300.3 L427.7 298.2 M433.5 291.2 L435.3 289.1 L437.2 286.9 L439.0 284.7 M444.9 277.7 L446.7 275.6 L448.5 273.4 L450.3 271.2 M456.2 264.2 L458.1 262.1 L459.9 259.9 L461.7 257.7 M467.7 250.7 L469.5 248.5 L471.4 246.4 L473.2 244.2 M479.2 237.2 L481.0 235.0 L482.9 232.8 L484.7 230.7 M490.8 223.6 L492.6 221.4 L494.5 219.2 L496.3 217.1 M502.4 209.9 L504.3 207.8 L506.1 205.6 L508.0 203.4 M514.1 196.3 L515.9 194.1 L517.8 192.0 L519.7 189.8 M525.8 182.6 L527.7 180.5 L529.6 178.3 L531.4 176.1 M537.6 168.9 L539.5 166.8 L541.4 164.6 L543.2 162.4 M549.5 155.2 L551.4 153.0 L553.2 150.9 L555.1 148.7 M561.4 141.4 L563.3 139.3 L565.2 137.1 L567.1 134.9 M573.4 127.6 L575.3 125.5 L577.2 123.3 L579.0 121.1 M585.4 113.8 L587.3 111.7 L589.2 109.5 L591.1 107.3 M597.5 100.0 L599.4 97.8 L601.3 95.6 L603.2 93.5 M609.7 86.1 L611.6 83.9 L613.5 81.8 L615.4 79.6 M314.5 502.9 L316.2 500.7 L317.8 498.6 L319.5 496.4 M324.5 489.9 L326.2 487.7 L327.8 485.6 L329.5 483.4 M334.5 476.8 L336.2 474.7 L337.9 472.5 L339.5 470.3 M344.6 463.8 L346.3 461.6 L348.0 459.4 L349.7 457.3 M354.8 450.7 L356.5 448.5 L358.2 446.3 L359.8 444.2 M365.0 437.5 L366.7 435.4 L368.4 433.2 L370.1 431.0 M375.3 424.4 L377.0 422.2 L378.7 420.0 L380.4 417.9 M385.7 411.2 L387.4 409.0 L389.1 406.9 L390.8 404.7 M396.1 398.0 L397.8 395.8 L399.5 393.6 L401.2 391.5 M406.6 384.7 L408.3 382.6 L410.0 380.4 L411.7 378.2 M417.1 371.5 L418.8 369.3 L420.6 367.1 L422.3 365.0 M427.7 358.2 L429.4 356.0 L431.2 353.8 L432.9 351.7 M438.4 344.8 L440.1 342.7 L441.9 340.5 L443.6 338.3 M449.1 331.5 L450.9 329.3 L452.6 327.1 L454.4 325.0 M459.9 318.1 L461.7 315.9 L463.4 313.8 L465.2 311.6 M470.8 304.7 L472.5 302.5 L474.3 300.3 L476.1 298.2 M481.7 291.2 L483.5 289.1 L485.2 286.9 L487.0 284.7 M492.7 277.7 L494.5 275.6 L496.2 273.4 L498.0 271.2 M503.7 264.2 L505.5 262.1 L507.3 259.9 L509.1 257.7 M514.8 250.7 L516.6 248.5 L518.4 246.4 L520.2 244.2 M526.0 237.2 L527.8 235.0 L529.6 232.8 L531.4 230.7 M537.3 223.6 L539.1 221.4 L540.8 219.2 L542.6 217.1 M548.6 209.9 L550.4 207.8 L552.2 205.6 L554.0 203.4 M559.9 196.3 L561.7 194.1 L563.5 192.0 L565.3 189.8 M571.3 182.6 L573.1 180.5 L575.0 178.3 L576.8 176.1 M582.8 168.9 L584.6 166.8 L586.4 164.6 L588.3 162.4 M594.3 155.2 L596.2 153.0 L598.0 150.9 L599.8 148.7 M605.9 141.4 L607.8 139.3 L609.6 137.1 L611.4 134.9 M617.6 127.6 L619.4 125.5 L621.3 123.3 L623.1 121.1 M629.3 113.8 L631.2 111.7 L633.0 109.5 L634.9 107.3 M641.1 100.0 L643.0 97.8 L644.8 95.6 L646.7 93.5 M653.0 86.1 L654.8 83.9 L656.7 81.8 L658.5 79.6 M348.1 502.9 L349.7 500.7 L351.3 498.6 L352.9 496.4 M357.8 489.9 L359.4 487.7 L361.0 485.6 L362.6 483.4 M367.6 476.8 L369.2 474.7 L370.8 472.5 L372.4 470.3 M377.4 463.8 L379.0 461.6 L380.7 459.4 L382.3 457.3 M387.3 450.7 L389.0 448.5 L390.6 446.3 L392.2 444.2 M397.3 437.5 L398.9 435.4 L400.6 433.2 L402.3 431.0 M407.3 424.4 L409.0 422.2 L410.7 420.0 L412.3 417.9 M417.5 411.2 L419.1 409.0 L420.8 406.9 L422.5 404.7 M427.6 398.0 L429.3 395.8 L431.0 393.6 L432.7 391.5 M437.9 384.7 L439.6 382.6 L441.2 380.4 L442.9 378.2 M448.2 371.5 L449.9 369.3 L451.6 367.1 L453.3 365.0 M458.6 358.2 L460.3 356.0 L462.0 353.8 L463.7 351.7 M469.0 344.8 L470.7 342.7 L472.4 340.5 L474.1 338.3 M479.5 331.5 L481.2 329.3 L482.9 327.1 L484.6 325.0 M490.1 318.1 L491.8 315.9 L493.5 313.8 L495.2 311.6 M500.7 304.7 L502.5 302.5 L504.2 300.3 L505.9 298.2 M511.4 291.2 L513.2 289.1 L514.9 286.9 L516.6 284.7 M522.2 277.7 L523.9 275.6 L525.7 273.4 L527.4 271.2 M533.0 264.2 L534.8 262.1 L536.5 259.9 L538.3 257.7 M543.9 250.7 L545.7 248.5 L547.4 246.4 L549.2 244.2 M554.9 237.2 L556.6 235.0 L558.4 232.8 L560.2 230.7 M565.9 223.6 L567.7 221.4 L569.4 219.2 L571.2 217.1 M577.0 209.9 L578.8 207.8 L580.5 205.6 L582.3 203.4 M588.1 196.3 L589.9 194.1 L591.7 192.0 L593.5 189.8 M599.4 182.6 L601.1 180.5 L602.9 178.3 L604.7 176.1 M610.6 168.9 L612.4 166.8 L614.2 164.6 L616.0 162.4 M622.0 155.2 L623.8 153.0 L625.6 150.9 L627.3 148.7 M633.4 141.4 L635.2 139.3 L637.0 137.1 L638.8 134.9 M644.8 127.6 L646.6 125.5 L648.4 123.3 L650.2 121.1 M656.4 113.8 L658.2 111.7 L660.0 109.5 L661.8 107.3 M667.9 100.0 L669.8 97.8 L671.6 95.6 L673.4 93.5 M679.6 86.1 L681.4 83.9 L683.2 81.8 L685.1 79.6 M372.7 502.9 L374.3 500.7 L375.9 498.6 L377.5 496.4 M382.2 489.9 L383.8 487.7 L385.4 485.6 L387.0 483.4 M391.8 476.8 L393.4 474.7 L395.0 472.5 L396.6 470.3 M401.5 463.8 L403.1 461.6 L404.7 459.4 L406.3 457.3 M411.2 450.7 L412.8 448.5 L414.5 446.3 L416.1 444.2 M421.0 437.5 L422.6 435.4 L424.3 433.2 L425.9 431.0 M430.9 424.4 L432.5 422.2 L434.2 420.0 L435.8 417.9 M440.8 411.2 L442.5 409.0 L444.1 406.9 L445.7 404.7 M450.8 398.0 L452.5 395.8 L454.1 393.6 L455.8 391.5 M460.9 384.7 L462.5 382.6 L464.2 380.4 L465.9 378.2 M471.0 371.5 L472.7 369.3 L474.4 367.1 L476.0 365.0 M481.2 358.2 L482.9 356.0 L484.6 353.8 L486.2 351.7 M491.5 344.8 L493.2 342.7 L494.9 340.5 L496.5 338.3 M501.8 331.5 L503.5 329.3 L505.2 327.1 L506.9 325.0 M512.3 318.1 L513.9 315.9 L515.6 313.8 L517.3 311.6 M522.7 304.7 L524.4 302.5 L526.1 300.3 L527.8 298.2 M533.3 291.2 L535.0 289.1 L536.7 286.9 L538.4 284.7 M543.9 277.7 L545.6 275.6 L547.3 273.4 L549.0 271.2 M554.5 264.2 L556.2 262.1 L558.0 259.9 L559.7 257.7 M565.3 250.7 L567.0 248.5 L568.7 246.4 L570.4 244.2 M576.1 237.2 L577.8 235.0 L579.5 232.8 L581.3 230.7 M586.9 223.6 L588.7 221.4 L590.4 219.2 L592.1 217.1 M597.9 209.9 L599.6 207.8 L601.3 205.6 L603.1 203.4 M608.9 196.3 L610.6 194.1 L612.4 192.0 L614.1 189.8 M619.9 182.6 L621.7 180.5 L623.4 178.3 L625.2 176.1 M631.0 168.9 L632.8 166.8 L634.6 164.6 L636.3 162.4 M642.2 155.2 L644.0 153.0 L645.8 150.9 L647.5 148.7 M653.5 141.4 L655.2 139.3 L657.0 137.1 L658.8 134.9 M664.8 127.6 L666.6 125.5 L668.3 123.3 L670.1 121.1 M676.2 113.8 L678.0 111.7 L679.7 109.5 L681.5 107.3 M687.6 100.0 L689.4 97.8 L691.2 95.6 L693.0 93.5 M699.1 86.1 L700.9 83.9 L702.7 81.8 L704.5 79.6 M408.8 502.9 L410.3 500.7 L411.9 498.6 L413.4 496.4 M418.0 489.9 L419.6 487.7 L421.1 485.6 L422.7 483.4 M427.3 476.8 L428.9 474.7 L430.5 472.5 L432.0 470.3 M436.7 463.8 L438.3 461.6 L439.8 459.4 L441.4 457.3 M446.2 450.7 L447.7 448.5 L449.3 446.3 L450.9 444.2 M455.7 437.5 L457.3 435.4 L458.9 433.2 L460.4 431.0 M465.3 424.4 L466.9 422.2 L468.5 420.0 L470.1 417.9 M475.0 411.2 L476.6 409.0 L478.2 406.9 L479.7 404.7 M484.7 398.0 L486.3 395.8 L487.9 393.6 L489.5 391.5 M494.5 384.7 L496.1 382.6 L497.7 380.4 L499.3 378.2 M504.4 371.5 L506.0 369.3 L507.6 367.1 L509.2 365.0 M514.3 358.2 L516.0 356.0 L517.6 353.8 L519.2 351.7 M524.4 344.8 L526.0 342.7 L527.6 340.5 L529.3 338.3 M534.4 331.5 L536.1 329.3 L537.7 327.1 L539.4 325.0 M544.6 318.1 L546.2 315.9 L547.9 313.8 L549.5 311.6 M554.8 304.7 L556.5 302.5 L558.1 300.3 L559.8 298.2 M565.1 291.2 L566.8 289.1 L568.4 286.9 L570.1 284.7 M575.5 277.7 L577.1 275.6 L578.8 273.4 L580.5 271.2 M585.9 264.2 L587.6 262.1 L589.2 259.9 L590.9 257.7 M596.4 250.7 L598.1 248.5 L599.8 246.4 L601.4 244.2 M606.9 237.2 L608.6 235.0 L610.3 232.8 L612.0 230.7 M617.6 223.6 L619.3 221.4 L621.0 219.2 L622.7 217.1 M628.3 209.9 L630.0 207.8 L631.7 205.6 L633.4 203.4 M639.0 196.3 L640.8 194.1 L642.5 192.0 L644.2 189.8 M649.9 182.6 L651.6 180.5 L653.3 178.3 L655.0 176.1 M660.8 168.9 L662.5 166.8 L664.2 164.6 L665.9 162.4 M671.7 155.2 L673.5 153.0 L675.2 150.9 L676.9 148.7 M682.8 141.4 L684.5 139.3 L686.2 137.1 L688.0 134.9 M693.9 127.6 L695.6 125.5 L697.3 123.3 L699.1 121.1 M705.0 113.8 L706.8 111.7 L708.5 109.5 L710.3 107.3 M716.2 100.0 L718.0 97.8 L719.8 95.6 L721.5 93.5 M727.5 86.1 L729.3 83.9 L731.1 81.8 L732.8 79.6 M435.4 502.9 L436.8 500.7 L438.4 498.6 L439.9 496.4 M444.4 489.9 L445.9 487.7 L447.4 485.6 L448.9 483.4 M453.5 476.8 L455.0 474.7 L456.5 472.5 L458.0 470.3 M462.6 463.8 L464.2 461.6 L465.7 459.4 L467.2 457.3 M471.9 450.7 L473.4 448.5 L475.0 446.3 L476.5 444.2 M481.2 437.5 L482.8 435.4 L484.3 433.2 L485.8 431.0 M490.6 424.4 L492.2 422.2 L493.7 420.0 L495.3 417.9 M500.1 411.2 L501.6 409.0 L503.2 406.9 L504.8 404.7 M509.6 398.0 L511.2 395.8 L512.8 393.6 L514.3 391.5 M519.2 384.7 L520.8 382.6 L522.4 380.4 L524.0 378.2 M528.9 371.5 L530.5 369.3 L532.1 367.1 L533.7 365.0 M538.7 358.2 L540.3 356.0 L541.8 353.8 L543.4 351.7 M548.5 344.8 L550.1 342.7 L551.7 340.5 L553.3 338.3 M558.4 331.5 L560.0 329.3 L561.6 327.1 L563.2 325.0 M568.3 318.1 L570.0 315.9 L571.6 313.8 L573.2 311.6 M578.4 304.7 L580.0 302.5 L581.6 300.3 L583.3 298.2 M588.5 291.2 L590.1 289.1 L591.8 286.9 L593.4 284.7 M598.7 277.7 L600.3 275.6 L602.0 273.4 L603.6 271.2 M608.9 264.2 L610.6 262.1 L612.2 259.9 L613.9 257.7 M619.2 250.7 L620.9 248.5 L622.5 246.4 L624.2 244.2 M629.6 237.2 L631.3 235.0 L632.9 232.8 L634.6 230.7 M640.1 223.6 L641.7 221.4 L643.4 219.2 L645.1 217.1 M650.6 209.9 L652.3 207.8 L654.0 205.6 L655.6 203.4 M661.2 196.3 L662.9 194.1 L664.6 192.0 L666.2 189.8 M671.8 182.6 L673.5 180.5 L675.2 178.3 L676.9 176.1 M682.6 168.9 L684.3 166.8 L686.0 164.6 L687.7 162.4 M693.4 155.2 L695.1 153.0 L696.8 150.9 L698.5 148.7 M704.2 141.4 L705.9 139.3 L707.7 137.1 L709.4 134.9 M715.2 127.6 L716.9 125.5 L718.6 123.3 L720.3 121.1 M726.2 113.8 L727.9 111.7 L729.6 109.5 L731.3 107.3 M737.2 100.0 L739.0 97.8 L740.7 95.6 L742.4 93.5 M748.4 86.1 L750.1 83.9 L751.8 81.8 L753.6 79.6 M474.2 502.9 L475.6 500.7 L477.1 498.6 L478.5 496.4 M482.9 489.9 L484.3 487.7 L485.8 485.6 L487.3 483.4 M491.7 476.8 L493.1 474.7 L494.6 472.5 L496.1 470.3 M500.5 463.8 L502.0 461.6 L503.5 459.4 L505.0 457.3 M509.5 450.7 L511.0 448.5 L512.4 446.3 L513.9 444.2 M518.5 437.5 L520.0 435.4 L521.5 433.2 L523.0 431.0 M527.6 424.4 L529.1 422.2 L530.6 420.0 L532.1 417.9 M536.8 411.2 L538.3 409.0 L539.8 406.9 L541.3 404.7 M546.0 398.0 L547.5 395.8 L549.0 393.6 L550.6 391.5 M555.3 384.7 L556.8 382.6 L558.4 380.4 L559.9 378.2 M564.7 371.5 L566.2 369.3 L567.8 367.1 L569.3 365.0 M574.2 358.2 L575.7 356.0 L577.3 353.8 L578.8 351.7 M583.7 344.8 L585.3 342.7 L586.8 340.5 L588.4 338.3 M593.3 331.5 L594.9 329.3 L596.5 327.1 L598.0 325.0 M603.0 318.1 L604.6 315.9 L606.2 313.8 L607.7 311.6 M612.8 304.7 L614.4 302.5 L615.9 300.3 L617.5 298.2 M622.6 291.2 L624.2 289.1 L625.8 286.9 L627.4 284.7 M632.5 277.7 L634.1 275.6 L635.7 273.4 L637.3 271.2 M642.5 264.2 L644.1 262.1 L645.7 259.9 L647.3 257.7 M652.5 250.7 L654.2 248.5 L655.8 246.4 L657.4 244.2 M662.7 237.2 L664.3 235.0 L665.9 232.8 L667.5 230.7 M672.9 223.6 L674.5 221.4 L676.1 219.2 L677.8 217.1 M683.1 209.9 L684.8 207.8 L686.4 205.6 L688.0 203.4 M693.5 196.3 L695.1 194.1 L696.8 192.0 L698.4 189.8 M703.9 182.6 L705.5 180.5 L707.2 178.3 L708.8 176.1 M714.4 168.9 L716.0 166.8 L717.7 164.6 L719.3 162.4 M724.9 155.2 L726.6 153.0 L728.2 150.9 L729.9 148.7 M735.5 141.4 L737.2 139.3 L738.9 137.1 L740.5 134.9 M746.2 127.6 L747.9 125.5 L749.6 123.3 L751.3 121.1 M757.0 113.8 L758.7 111.7 L760.3 109.5 L762.0 107.3 M767.8 100.0 L769.5 97.8 L771.2 95.6 L772.9 93.5 M778.7 86.1 L780.4 83.9 L782.1 81.8 L783.8 79.6 M502.8 502.9 L504.2 500.7 L505.6 498.6 L507.0 496.4 M511.2 489.9 L512.7 487.7 L514.1 485.6 L515.5 483.4 M519.8 476.8 L521.2 474.7 L522.6 472.5 L524.1 470.3 M528.4 463.8 L529.9 461.6 L531.3 459.4 L532.7 457.3 M537.1 450.7 L538.6 448.5 L540.0 446.3 L541.5 444.2 M545.9 437.5 L547.4 435.4 L548.8 433.2 L550.3 431.0 M554.8 424.4 L556.2 422.2 L557.7 420.0 L559.2 417.9 M563.7 411.2 L565.2 409.0 L566.7 406.9 L568.1 404.7 M572.7 398.0 L574.2 395.8 L575.7 393.6 L577.2 391.5 M581.8 384.7 L583.3 382.6 L584.8 380.4 L586.3 378.2 M591.0 371.5 L592.5 369.3 L594.0 367.1 L595.5 365.0 M600.3 358.2 L601.8 356.0 L603.3 353.8 L604.8 351.7 M609.6 344.8 L611.1 342.7 L612.6 340.5 L614.2 338.3 M619.0 331.5 L620.5 329.3 L622.1 327.1 L623.6 325.0 M628.5 318.1 L630.0 315.9 L631.6 313.8 L633.1 311.6 M638.0 304.7 L639.6 302.5 L641.1 300.3 L642.7 298.2 M647.7 291.2 L649.2 289.1 L650.8 286.9 L652.3 284.7 M657.4 277.7 L658.9 275.6 L660.5 273.4 L662.1 271.2 M667.1 264.2 L668.7 262.1 L670.3 259.9 L671.9 257.7 M677.0 250.7 L678.6 248.5 L680.2 246.4 L681.7 244.2 M686.9 237.2 L688.5 235.0 L690.1 232.8 L691.7 230.7 M696.9 223.6 L698.5 221.4 L700.1 219.2 L701.7 217.1 M707.0 209.9 L708.6 207.8 L710.2 205.6 L711.8 203.4 M717.1 196.3 L718.8 194.1 L720.4 192.0 L722.0 189.8 M727.4 182.6 L729.0 180.5 L730.6 178.3 L732.2 176.1 M737.6 168.9 L739.3 166.8 L740.9 164.6 L742.5 162.4 M748.0 155.2 L749.7 153.0 L751.3 150.9 L752.9 148.7 M758.4 141.4 L760.1 139.3 L761.7 137.1 L763.4 134.9 M769.0 127.6 L770.6 125.5 L772.3 123.3 L773.9 121.1 M779.5 113.8 L781.2 111.7 L782.9 109.5 L784.5 107.3 M790.2 100.0 L791.8 97.8 L793.5 95.6 L795.2 93.5 M800.9 86.1 L802.6 83.9 L804.3 81.8 L805.9 79.6 M525.5 502.9 L526.9 500.7 L528.3 498.6 L529.7 496.4 M533.8 489.9 L535.2 487.7 L536.6 485.6 L538.0 483.4 M542.2 476.8 L543.6 474.7 L545.0 472.5 L546.4 470.3 M550.6 463.8 L552.0 461.6 L553.4 459.4 L554.8 457.3 M559.1 450.7 L560.5 448.5 L562.0 446.3 L563.4 444.2 M567.7 437.5 L569.2 435.4 L570.6 433.2 L572.0 431.0 M576.4 424.4 L577.9 422.2 L579.3 420.0 L580.7 417.9 M585.2 411.2 L586.6 409.0 L588.1 406.9 L589.5 404.7 M594.0 398.0 L595.5 395.8 L596.9 393.6 L598.4 391.5 M602.9 384.7 L604.4 382.6 L605.9 380.4 L607.3 378.2 M611.9 371.5 L613.4 369.3 L614.9 367.1 L616.4 365.0 M621.0 358.2 L622.5 356.0 L624.0 353.8 L625.5 351.7 M630.2 344.8 L631.7 342.7 L633.2 340.5 L634.7 338.3 M639.4 331.5 L640.9 329.3 L642.4 327.1 L643.9 325.0 M648.7 318.1 L650.2 315.9 L651.7 313.8 L653.3 311.6 M658.1 304.7 L659.6 302.5 L661.2 300.3 L662.7 298.2 M667.6 291.2 L669.1 289.1 L670.6 286.9 L672.2 284.7 M677.1 277.7 L678.7 275.6 L680.2 273.4 L681.7 271.2 M686.7 264.2 L688.3 262.1 L689.8 259.9 L691.4 257.7 M696.4 250.7 L698.0 248.5 L699.5 246.4 L701.1 244.2 M706.2 237.2 L707.8 235.0 L709.3 232.8 L710.9 230.7 M716.0 223.6 L717.6 221.4 L719.2 219.2 L720.8 217.1 M726.0 209.9 L727.5 207.8 L729.1 205.6 L730.7 203.4 M735.9 196.3 L737.5 194.1 L739.1 192.0 L740.7 189.8 M746.0 182.6 L747.6 180.5 L749.2 178.3 L750.8 176.1 M756.2 168.9 L757.8 166.8 L759.4 164.6 L761.0 162.4 M766.4 155.2 L768.0 153.0 L769.6 150.9 L771.2 148.7 M776.7 141.4 L778.3 139.3 L779.9 137.1 L781.5 134.9 M787.0 127.6 L788.6 125.5 L790.3 123.3 L791.9 121.1 M797.4 113.8 L799.1 111.7 L800.7 109.5 L802.4 107.3 M808.0 100.0 L809.6 97.8 L811.2 95.6 L812.9 93.5 M818.5 86.1 L820.2 83.9 L821.8 81.8 L823.5 79.6 M544.5 502.9 L545.9 500.7 L547.2 498.6 L548.6 496.4 M552.6 489.9 L554.0 487.7 L555.4 485.6 L556.7 483.4 M560.8 476.8 L562.2 474.7 L563.6 472.5 L564.9 470.3 M569.1 463.8 L570.5 461.6 L571.9 459.4 L573.3 457.3 M577.5 450.7 L578.9 448.5 L580.3 446.3 L581.7 444.2 M585.9 437.5 L587.3 435.4 L588.7 433.2 L590.1 431.0 M594.5 424.4 L595.9 422.2 L597.3 420.0 L598.7 417.9 M603.1 411.2 L604.5 409.0 L605.9 406.9 L607.3 404.7 M611.8 398.0 L613.2 395.8 L614.6 393.6 L616.1 391.5 M620.5 384.7 L622.0 382.6 L623.4 380.4 L624.9 378.2 M629.4 371.5 L630.8 369.3 L632.3 367.1 L633.7 365.0 M638.3 358.2 L639.8 356.0 L641.2 353.8 L642.7 351.7 M647.3 344.8 L648.8 342.7 L650.3 340.5 L651.7 338.3 M656.4 331.5 L657.9 329.3 L659.4 327.1 L660.9 325.0 M665.6 318.1 L667.1 315.9 L668.6 313.8 L670.1 311.6 M674.8 304.7 L676.3 302.5 L677.8 300.3 L679.3 298.2 M684.2 291.2 L685.7 289.1 L687.2 286.9 L688.7 284.7 M693.6 277.7 L695.1 275.6 L696.6 273.4 L698.1 271.2 M703.0 264.2 L704.6 262.1 L706.1 259.9 L707.6 257.7 M712.6 250.7 L714.1 248.5 L715.7 246.4 L717.2 244.2 M722.2 237.2 L723.8 235.0 L725.3 232.8 L726.9 230.7 M732.0 223.6 L733.5 221.4 L735.1 219.2 L736.6 217.1 M741.7 209.9 L743.3 207.8 L744.9 205.6 L746.4 203.4 M751.6 196.3 L753.2 194.1 L754.7 192.0 L756.3 189.8 M761.5 182.6 L763.1 180.5 L764.7 178.3 L766.3 176.1 M771.6 168.9 L773.1 166.8 L774.7 164.6 L776.3 162.4 M781.6 155.2 L783.2 153.0 L784.8 150.9 L786.4 148.7 M791.8 141.4 L793.4 139.3 L795.0 137.1 L796.6 134.9 M802.0 127.6 L803.7 125.5 L805.3 123.3 L806.9 121.1 M812.4 113.8 L814.0 111.7 L815.6 109.5 L817.2 107.3 M822.7 100.0 L824.4 97.8 L826.0 95.6 L827.6 93.5 M833.2 86.1 L834.8 83.9 L836.5 81.8 L838.1 79.6 M568.2 502.9 L569.6 500.7 L570.9 498.6 L572.2 496.4 M576.2 489.9 L577.5 487.7 L578.8 485.6 L580.1 483.4 M584.1 476.8 L585.5 474.7 L586.8 472.5 L588.2 470.3 M592.2 463.8 L593.6 461.6 L594.9 459.4 L596.3 457.3 M600.4 450.7 L601.8 448.5 L603.1 446.3 L604.5 444.2 M608.6 437.5 L610.0 435.4 L611.4 433.2 L612.8 431.0 M617.0 424.4 L618.4 422.2 L619.7 420.0 L621.1 417.9 M625.4 411.2 L626.8 409.0 L628.2 406.9 L629.6 404.7 M633.9 398.0 L635.3 395.8 L636.7 393.6 L638.1 391.5 M642.5 384.7 L643.9 382.6 L645.3 380.4 L646.7 378.2 M651.1 371.5 L652.6 369.3 L654.0 367.1 L655.4 365.0 M659.9 358.2 L661.3 356.0 L662.8 353.8 L664.2 351.7 M668.7 344.8 L670.2 342.7 L671.6 340.5 L673.0 338.3 M677.6 331.5 L679.1 329.3 L680.5 327.1 L682.0 325.0 M686.6 318.1 L688.1 315.9 L689.5 313.8 L691.0 311.6 M695.7 304.7 L697.2 302.5 L698.6 300.3 L700.1 298.2 M704.8 291.2 L706.3 289.1 L707.8 286.9 L709.3 284.7 M714.1 277.7 L715.6 275.6 L717.1 273.4 L718.5 271.2 M723.4 264.2 L724.9 262.1 L726.4 259.9 L727.9 257.7 M732.8 250.7 L734.3 248.5 L735.8 246.4 L737.3 244.2 M742.2 237.2 L743.8 235.0 L745.3 232.8 L746.8 230.7 M751.8 223.6 L753.3 221.4 L754.8 219.2 L756.4 217.1 M761.4 209.9 L762.9 207.8 L764.5 205.6 L766.0 203.4 M771.1 196.3 L772.7 194.1 L774.2 192.0 L775.7 189.8 M780.9 182.6 L782.4 180.5 L784.0 178.3 L785.6 176.1 M790.7 168.9 L792.3 166.8 L793.9 164.6 L795.4 162.4 M800.7 155.2 L802.2 153.0 L803.8 150.9 L805.4 148.7 M810.7 141.4 L812.3 139.3 L813.8 137.1 L815.4 134.9 M820.8 127.6 L822.4 125.5 L823.9 123.3 L825.5 121.1 M830.9 113.8 L832.5 111.7 L834.1 109.5 L835.7 107.3 M841.2 100.0 L842.8 97.8 L844.4 95.6 L846.0 93.5 M851.5 86.1 L853.1 83.9 L854.7 81.8 L856.3 79.6 M599.6 502.9 L600.8 500.7 L602.1 498.6 L603.4 496.4 M607.2 489.9 L608.5 487.7 L609.8 485.6 L611.1 483.4 M614.9 476.8 L616.2 474.7 L617.5 472.5 L618.8 470.3 M622.7 463.8 L624.1 461.6 L625.4 459.4 L626.7 457.3 M630.6 450.7 L632.0 448.5 L633.3 446.3 L634.6 444.2 M638.6 437.5 L640.0 435.4 L641.3 433.2 L642.6 431.0 M646.7 424.4 L648.0 422.2 L649.4 420.0 L650.7 417.9 M654.9 411.2 L656.2 409.0 L657.6 406.9 L658.9 404.7 M663.1 398.0 L664.5 395.8 L665.8 393.6 L667.2 391.5 M671.4 384.7 L672.8 382.6 L674.2 380.4 L675.6 378.2 M679.9 371.5 L681.2 369.3 L682.6 367.1 L684.0 365.0 M688.4 358.2 L689.7 356.0 L691.1 353.8 L692.5 351.7 M696.9 344.8 L698.3 342.7 L699.7 340.5 L701.2 338.3 M705.6 331.5 L707.0 329.3 L708.4 327.1 L709.9 325.0 M714.4 318.1 L715.8 315.9 L717.2 313.8 L718.6 311.6 M723.2 304.7 L724.6 302.5 L726.1 300.3 L727.5 298.2 M732.1 291.2 L733.6 289.1 L735.0 286.9 L736.4 284.7 M741.1 277.7 L742.6 275.6 L744.0 273.4 L745.5 271.2 M750.2 264.2 L751.7 262.1 L753.1 259.9 L754.6 257.7 M759.4 250.7 L760.8 248.5 L762.3 246.4 L763.8 244.2 M768.6 237.2 L770.1 235.0 L771.6 232.8 L773.1 230.7 M777.9 223.6 L779.4 221.4 L780.9 219.2 L782.4 217.1 M787.3 209.9 L788.8 207.8 L790.3 205.6 L791.8 203.4 M796.8 196.3 L798.3 194.1 L799.8 192.0 L801.3 189.8 M806.4 182.6 L807.9 180.5 L809.4 178.3 L810.9 176.1 M816.0 168.9 L817.5 166.8 L819.1 164.6 L820.6 162.4 M825.7 155.2 L827.3 153.0 L828.8 150.9 L830.4 148.7 M835.5 141.4 L837.1 139.3 L838.6 137.1 L840.2 134.9 M845.4 127.6 L847.0 125.5 L848.5 123.3 L850.1 121.1 M855.4 113.8 L856.9 111.7 L858.5 109.5 L860.1 107.3 M865.4 100.0 L867.0 97.8 L868.5 95.6 L870.1 93.5 M875.5 86.1 L877.1 83.9 L878.7 81.8 L880.3 79.6 M624.5 502.9 L625.7 500.7 L626.9 498.6 L628.2 496.4 M631.9 489.9 L633.1 487.7 L634.4 485.6 L635.6 483.4 M639.4 476.8 L640.6 474.7 L641.9 472.5 L643.1 470.3 M647.0 463.8 L648.2 461.6 L649.5 459.4 L650.8 457.3 M654.6 450.7 L655.9 448.5 L657.2 446.3 L658.5 444.2 M662.4 437.5 L663.7 435.4 L665.0 433.2 L666.3 431.0 M670.3 424.4 L671.6 422.2 L672.9 420.0 L674.2 417.9 M678.2 411.2 L679.5 409.0 L680.9 406.9 L682.2 404.7 M686.3 398.0 L687.6 395.8 L688.9 393.6 L690.3 391.5 M694.4 384.7 L695.7 382.6 L697.1 380.4 L698.4 378.2 M702.6 371.5 L704.0 369.3 L705.3 367.1 L706.7 365.0 M710.9 358.2 L712.3 356.0 L713.6 353.8 L715.0 351.7 M719.3 344.8 L720.7 342.7 L722.0 340.5 L723.4 338.3 M727.8 331.5 L729.2 329.3 L730.5 327.1 L731.9 325.0 M736.3 318.1 L737.7 315.9 L739.1 313.8 L740.5 311.6 M745.0 304.7 L746.4 302.5 L747.8 300.3 L749.2 298.2 M753.7 291.2 L755.1 289.1 L756.5 286.9 L758.0 284.7 M762.5 277.7 L764.0 275.6 L765.4 273.4 L766.8 271.2 M771.4 264.2 L772.9 262.1 L774.3 259.9 L775.7 257.7 M780.4 250.7 L781.8 248.5 L783.3 246.4 L784.7 244.2 M789.5 237.2 L790.9 235.0 L792.4 232.8 L793.8 230.7 M798.6 223.6 L800.1 221.4 L801.5 219.2 L803.0 217.1 M807.8 209.9 L809.3 207.8 L810.8 205.6 L812.3 203.4 M817.1 196.3 L818.6 194.1 L820.1 192.0 L821.6 189.8 M826.5 182.6 L828.0 180.5 L829.5 178.3 L831.0 176.1 M836.0 168.9 L837.5 166.8 L839.0 164.6 L840.5 162.4 M845.6 155.2 L847.1 153.0 L848.6 150.9 L850.1 148.7 M855.2 141.4 L856.7 139.3 L858.2 137.1 L859.8 134.9 M864.9 127.6 L866.4 125.5 L868.0 123.3 L869.5 121.1 M874.7 113.8 L876.2 111.7 L877.8 109.5 L879.3 107.3 M884.6 100.0 L886.1 97.8 L887.7 95.6 L889.2 93.5 M894.5 86.1 L896.1 83.9 L897.6 81.8 L899.2 79.6 M645.1 502.9 L646.3 500.7 L647.5 498.6 L648.7 496.4 M652.4 489.9 L653.6 487.7 L654.8 485.6 L656.0 483.4 M659.7 476.8 L660.9 474.7 L662.1 472.5 L663.3 470.3 M667.1 463.8 L668.3 461.6 L669.6 459.4 L670.8 457.3 M674.6 450.7 L675.8 448.5 L677.1 446.3 L678.3 444.2 M682.2 437.5 L683.4 435.4 L684.7 433.2 L686.0 431.0 M689.9 424.4 L691.1 422.2 L692.4 420.0 L693.7 417.9 M697.6 411.2 L698.9 409.0 L700.2 406.9 L701.5 404.7 M705.5 398.0 L706.8 395.8 L708.1 393.6 L709.4 391.5 M713.5 384.7 L714.8 382.6 L716.1 380.4 L717.4 378.2 M721.5 371.5 L722.8 369.3 L724.2 367.1 L725.5 365.0 M729.6 358.2 L731.0 356.0 L732.3 353.8 L733.6 351.7 M737.9 344.8 L739.2 342.7 L740.6 340.5 L741.9 338.3 M746.2 331.5 L747.5 329.3 L748.9 327.1 L750.2 325.0 M754.6 318.1 L755.9 315.9 L757.3 313.8 L758.7 311.6 M763.1 304.7 L764.4 302.5 L765.8 300.3 L767.2 298.2 M771.6 291.2 L773.0 289.1 L774.4 286.9 L775.8 284.7 M780.3 277.7 L781.7 275.6 L783.1 273.4 L784.5 271.2 M789.0 264.2 L790.4 262.1 L791.9 259.9 L793.3 257.7 M797.9 250.7 L799.3 248.5 L800.7 246.4 L802.1 244.2 M806.8 237.2 L808.2 235.0 L809.6 232.8 L811.1 230.7 M815.8 223.6 L817.2 221.4 L818.6 219.2 L820.1 217.1 M824.8 209.9 L826.3 207.8 L827.7 205.6 L829.2 203.4 M834.0 196.3 L835.5 194.1 L836.9 192.0 L838.4 189.8 M843.3 182.6 L844.7 180.5 L846.2 178.3 L847.7 176.1 M852.6 168.9 L854.1 166.8 L855.5 164.6 L857.0 162.4 M862.0 155.2 L863.5 153.0 L865.0 150.9 L866.5 148.7 M871.5 141.4 L873.0 139.3 L874.5 137.1 L876.0 134.9 M881.1 127.6 L882.6 125.5 L884.1 123.3 L885.6 121.1 M890.7 113.8 L892.2 111.7 L893.7 109.5 L895.3 107.3 M900.4 100.0 L902.0 97.8 L903.5 95.6 L905.0 93.5 M910.3 86.1 L911.8 83.9 L913.3 81.8 L914.9 79.6 M662.8 502.9 L664.0 500.7 L665.2 498.6 L666.4 496.4 M669.9 489.9 L671.1 487.7 L672.3 485.6 L673.5 483.4 M677.1 476.8 L678.3 474.7 L679.5 472.5 L680.7 470.3 M684.3 463.8 L685.5 461.6 L686.7 459.4 L687.9 457.3 M691.7 450.7 L692.9 448.5 L694.1 446.3 L695.3 444.2 M699.1 437.5 L700.3 435.4 L701.6 433.2 L702.8 431.0 M706.6 424.4 L707.9 422.2 L709.1 420.0 L710.4 417.9 M714.3 411.2 L715.5 409.0 L716.8 406.9 L718.0 404.7 M722.0 398.0 L723.2 395.8 L724.5 393.6 L725.8 391.5 M729.8 384.7 L731.1 382.6 L732.4 380.4 L733.6 378.2 M737.7 371.5 L739.0 369.3 L740.3 367.1 L741.6 365.0 M745.7 358.2 L747.0 356.0 L748.3 353.8 L749.6 351.7 M753.8 344.8 L755.1 342.7 L756.4 340.5 L757.7 338.3 M761.9 331.5 L763.3 329.3 L764.6 327.1 L765.9 325.0 M770.2 318.1 L771.5 315.9 L772.9 313.8 L774.2 311.6 M778.5 304.7 L779.9 302.5 L781.2 300.3 L782.6 298.2 M787.0 291.2 L788.3 289.1 L789.7 286.9 L791.1 284.7 M795.5 277.7 L796.9 275.6 L798.2 273.4 L799.6 271.2 M804.1 264.2 L805.5 262.1 L806.9 259.9 L808.3 257.7 M812.8 250.7 L814.2 248.5 L815.6 246.4 L817.0 244.2 M821.6 237.2 L823.0 235.0 L824.4 232.8 L825.8 230.7 M830.4 223.6 L831.9 221.4 L833.3 219.2 L834.7 217.1 M839.4 209.9 L840.8 207.8 L842.2 205.6 L843.7 203.4 M848.4 196.3 L849.9 194.1 L851.3 192.0 L852.7 189.8 M857.5 182.6 L859.0 180.5 L860.4 178.3 L861.9 176.1 M866.7 168.9 L868.2 166.8 L869.7 164.6 L871.1 162.4 M876.0 155.2 L877.5 153.0 L879.0 150.9 L880.5 148.7 M885.4 141.4 L886.9 139.3 L888.4 137.1 L889.9 134.9 M894.9 127.6 L896.3 125.5 L897.8 123.3 L899.3 121.1 M904.4 113.8 L905.9 111.7 L907.4 109.5 L908.9 107.3 M914.0 100.0 L915.5 97.8 L917.0 95.6 L918.5 93.5 M923.7 86.1 L925.2 83.9 L926.7 81.8 L928.3 79.6 M678.3 502.9 L679.5 500.7 L680.6 498.6 L681.8 496.4 M685.2 489.9 L686.4 487.7 L687.6 485.6 L688.7 483.4 M692.3 476.8 L693.4 474.7 L694.6 472.5 L695.8 470.3 M699.4 463.8 L700.6 461.6 L701.7 459.4 L702.9 457.3 M706.6 450.7 L707.8 448.5 L709.0 446.3 L710.2 444.2 M713.9 437.5 L715.1 435.4 L716.3 433.2 L717.5 431.0 M721.3 424.4 L722.5 422.2 L723.7 420.0 L725.0 417.9 M728.8 411.2 L730.0 409.0 L731.3 406.9 L732.5 404.7 M736.4 398.0 L737.6 395.8 L738.9 393.6 L740.1 391.5 M744.0 384.7 L745.3 382.6 L746.6 380.4 L747.8 378.2 M751.8 371.5 L753.1 369.3 L754.4 367.1 L755.6 365.0 M759.7 358.2 L761.0 356.0 L762.3 353.8 L763.5 351.7 M767.6 344.8 L768.9 342.7 L770.2 340.5 L771.5 338.3 M775.7 331.5 L777.0 329.3 L778.3 327.1 L779.6 325.0 M783.8 318.1 L785.1 315.9 L786.5 313.8 L787.8 311.6 M792.0 304.7 L793.4 302.5 L794.7 300.3 L796.0 298.2 M800.4 291.2 L801.7 289.1 L803.0 286.9 L804.4 284.7 M808.8 277.7 L810.1 275.6 L811.5 273.4 L812.8 271.2 M817.2 264.2 L818.6 262.1 L820.0 259.9 L821.4 257.7 M825.8 250.7 L827.2 248.5 L828.6 246.4 L830.0 244.2 M834.5 237.2 L835.9 235.0 L837.3 232.8 L838.7 230.7 M843.2 223.6 L844.6 221.4 L846.1 219.2 L847.5 217.1 M852.1 209.9 L853.5 207.8 L854.9 205.6 L856.3 203.4 M861.0 196.3 L862.4 194.1 L863.9 192.0 L865.3 189.8 M870.0 182.6 L871.5 180.5 L872.9 178.3 L874.3 176.1 M879.1 168.9 L880.6 166.8 L882.0 164.6 L883.5 162.4 M888.3 155.2 L889.7 153.0 L891.2 150.9 L892.7 148.7 M897.6 141.4 L899.0 139.3 L900.5 137.1 L902.0 134.9 M906.9 127.6 L908.4 125.5 L909.9 123.3 L911.3 121.1 M916.3 113.8 L917.8 111.7 L919.3 109.5 L920.8 107.3 M925.9 100.0 L927.3 97.8 L928.8 95.6 L930.3 93.5 M935.4 86.1 L937.0 83.9 L938.5 81.8 L940.0 79.6"/>
<path stroke="#ff0000" stroke-width="0.99" d="M-454.5 503.4 L63.6 74.9 M-386.8 503.4 L131.3 74.9 M-319.0 503.4 L199.1 74.9 M-251.2 503.4 L266.8 74.9 M-183.5 503.4 L334.6 74.9 M-115.8 503.4 L402.3 74.9 M-48.0 503.4 L470.1 74.9 M19.8 503.4 L537.8 74.9 M87.5 503.4 L605.6 74.9 M155.2 503.4 L673.3 74.9 M223.0 503.4 L741.1 74.9 M290.8 503.4 L808.8 74.9 M358.5 503.4 L876.6 74.9 M426.2 503.4 L944.3 74.9 M494.0 503.4 L1012.1 74.9 M561.8 503.4 L1079.8 74.9 M629.5 503.4 L1147.6 74.9 M697.2 503.4 L1215.3 74.9"/>
<path stroke="#0000ff" stroke-width="0.99" d="M370.4 74.5 L352.0 148.4 L345.7 201.8 L362.4 241.6 L405.6 275.4 L451.4 313.6 L466.7 327.3 L480.9 346.9 L494.6 367.8 L498.5 380.3 L502.6 401.1 L507.5 429.6 L527.4 464.3 L550.3 479.8 L564.5 494.4 M370.4 75.5 L352.0 149.4 L345.7 202.8 L362.4 242.6 L405.6 276.4 L451.4 314.6 L466.7 328.3 L480.9 347.9 L494.6 368.8 L498.5 381.3 L502.6 402.1 L507.5 430.6 L527.4 465.3 L550.3 480.8 L564.5 495.4"/>
<path stroke="#ff0000" stroke-width="0.99" d="M488.5 74.5 L427.8 148.4 L400.7 201.8 L418.7 241.6 L453.3 275.4 L503.4 327.3 L527.6 368.1 L547.5 401.1 L563.2 429.6 L563.7 453.6 L564.3 481.2 L578.0 494.4 M488.5 75.5 L427.8 149.4 L400.7 202.8 L418.7 242.6 L453.3 276.4 L503.4 328.3 L527.6 369.1 L547.5 402.1 L563.2 430.6 L563.7 454.6 L564.3 482.2 L578.0 495.4"/>
<path stroke="#ff0000" stroke-width="1" d="M578 494.4 L577.5 500"/>
<rect x="563" y="494" width="3" height="5" fill="#0000ff" stroke="none"/>
</g>
<path shape-rendering="crispEdges" fill="none" stroke="#000" stroke-width="1" d="M87.5 503.5 V74.5 H697 M87 503.5 H697"/>
</svg>
<svg width="870" height="560" viewBox="0 0 870 560" style="position:absolute;left:0;top:0;transform:translateZ(0)">
<text y="52.0" font-size="17" fill="#000" stroke="#fff" stroke-width="0.3"><tspan x="85.2" textLength="32.8" lengthAdjust="spacingAndGlyphs">AIRS</tspan> <tspan x="128.0" textLength="47.6" lengthAdjust="spacingAndGlyphs">SkewT</tspan> <tspan x="183.5" textLength="63.1" lengthAdjust="spacingAndGlyphs">Diagram</tspan> <tspan x="257.9" textLength="64.9" lengthAdjust="spacingAndGlyphs">2010−07</tspan> <tspan x="332.4" textLength="136.6" lengthAdjust="spacing">−25/02:08:00.20</tspan> <tspan x="478.6" textLength="69.0" lengthAdjust="spacing">(Lat/Lon</tspan> <tspan x="555.6" textLength="112.7" lengthAdjust="spacing">30.46/175.03</tspan> <tspan x="677.5" textLength="32.5" lengthAdjust="spacingAndGlyphs">deg)</tspan></text>
<text y="65.7" font-size="11.5" fill="#ff0000" x="113.8" textLength="29.3" lengthAdjust="spacing" >−120</text>
<text y="65.7" font-size="11.5" fill="#ff0000" x="182.0" textLength="27.8" lengthAdjust="spacing" >−110</text>
<text y="65.7" font-size="11.5" fill="#ff0000" x="250.7" textLength="27.9" lengthAdjust="spacing" >−100</text>
<text y="65.7" font-size="11.5" fill="#ff0000" x="323.9" textLength="21.4" lengthAdjust="spacing" >−90</text>
<text y="65.7" font-size="11.5" fill="#ff0000" x="391.6" textLength="21.4" lengthAdjust="spacing" >−80</text>
<text y="65.7" font-size="11.5" fill="#ff0000" x="459.4" textLength="21.4" lengthAdjust="spacing" >−70</text>
<text y="65.7" font-size="11.5" fill="#ff0000" x="527.1" textLength="21.4" lengthAdjust="spacing" >−60</text>
<text y="65.7" font-size="11.5" fill="#ff0000" x="594.9" textLength="21.4" lengthAdjust="spacing" >−50</text>
<text y="65.7" font-size="11.5" fill="#ff0000" x="662.6" textLength="21.4" lengthAdjust="spacing" >−40</text>
<text y="517.2" font-size="11.5" fill="#ff0000" x="87.7" textLength="21.5" lengthAdjust="spacing" >−50</text>
<text y="517.2" font-size="11.5" fill="#ff0000" x="155.4" textLength="21.5" lengthAdjust="spacing" >−40</text>
<text y="517.2" font-size="11.5" fill="#ff0000" x="223.2" textLength="21.5" lengthAdjust="spacing" >−30</text>
<text y="517.2" font-size="11.5" fill="#ff0000" x="290.9" textLength="21.5" lengthAdjust="spacing" >−20</text>
<text y="517.2" font-size="11.5" fill="#ff0000" x="358.7" textLength="21.5" lengthAdjust="spacing" >−10</text>
<text y="517.2" font-size="11.5" fill="#ff0000" x="434.1" >0</text>
<text y="517.2" font-size="11.5" fill="#ff0000" x="499.0" textLength="12.0" lengthAdjust="spacingAndGlyphs" >10</text>
<text y="517.2" font-size="11.5" fill="#ff0000" x="565.9" textLength="13.3" lengthAdjust="spacing" >20</text>
<text y="517.2" font-size="11.5" fill="#ff0000" x="633.9" textLength="12.5" lengthAdjust="spacingAndGlyphs" >30</text>
<text y="517.2" font-size="11.5" fill="#ff0000" x="677.8" textLength="20.5" lengthAdjust="spacingAndGlyphs" >T(C)</text>
<text y="75.0" font-size="12" fill="#000" x="48.1" textLength="19.0" lengthAdjust="spacingAndGlyphs" >100</text>
<text y="202.0" font-size="12" fill="#000" x="48.1" textLength="19.0" lengthAdjust="spacingAndGlyphs" >200</text>
<text y="276.0" font-size="12" fill="#000" x="48.1" textLength="19.0" lengthAdjust="spacingAndGlyphs" >300</text>
<text y="328.0" font-size="12" fill="#000" x="48.1" textLength="19.0" lengthAdjust="spacingAndGlyphs" >400</text>
<text y="369.0" font-size="12" fill="#000" x="48.1" textLength="19.0" lengthAdjust="spacingAndGlyphs" >500</text>
<text y="402.0" font-size="12" fill="#000" x="48.1" textLength="19.0" lengthAdjust="spacingAndGlyphs" >600</text>
<text y="430.0" font-size="12" fill="#000" x="48.1" textLength="19.0" lengthAdjust="spacingAndGlyphs" >700</text>
<text y="454.0" font-size="12" fill="#000" x="48.1" textLength="19.0" lengthAdjust="spacingAndGlyphs" >800</text>
<text y="476.0" font-size="12" fill="#000" x="48.1" textLength="19.0" lengthAdjust="spacingAndGlyphs" >900</text>
<text y="495.0" font-size="12" fill="#000" x="42.9" textLength="25.3" lengthAdjust="spacingAndGlyphs" >1000</text>
<text font-size="14.5" fill="#000" stroke="#fff" stroke-width="0.25" transform="translate(82.9 0) rotate(-90)"><tspan x="-331.8" y="0" textLength="68.3" lengthAdjust="spacingAndGlyphs">PRESSURE</tspan> <tspan x="-257.0" y="0" textLength="29.2" lengthAdjust="spacingAndGlyphs">(MB)</tspan></text>
<text y="84.8" font-size="13.5" fill="#000" x="701.8" textLength="43.8" lengthAdjust="spacing" >TP:100</text>
<text y="101.1" font-size="13.5" fill="#000" x="700.0" textLength="51.0" lengthAdjust="spacing" >MW:N/A</text>
<text y="116.6" font-size="13.5" fill="#000" x="701.5" textLength="50.0" lengthAdjust="spacingAndGlyphs" >FRZ:601</text>
<text y="131.8" font-size="13.5" fill="#000" x="700.0" textLength="56.0" lengthAdjust="spacing" >WB0:785</text>
<text y="147.8" font-size="13.5" fill="#000" x="700.0" textLength="59.5" lengthAdjust="spacing" >PW:25.29</text>
<text y="163.6" font-size="13.5" fill="#000" x="701.0" textLength="50.0" lengthAdjust="spacing" >RH:69.5</text>
<text y="179.1" font-size="13.5" fill="#000" x="699.5" textLength="64.5" lengthAdjust="spacingAndGlyphs" >MAXT:27.8</text>
<text y="194.3" font-size="13.5" fill="#000" x="701.0" textLength="52.0" lengthAdjust="spacing" >TH:5463</text>
<text y="210.3" font-size="13.5" fill="#000" x="701.0" textLength="48.0" lengthAdjust="spacing" >L57:6.2</text>
<text y="226.1" font-size="13.5" fill="#000" x="701.0" textLength="50.5" lengthAdjust="spacing" >LCL:995</text>
<text y="241.6" font-size="13.5" fill="#000" x="703.5" textLength="33.5" lengthAdjust="spacing" >LI:1.7</text>
<text y="257.4" font-size="13.5" fill="#000" x="702.0" textLength="36.0" lengthAdjust="spacing" >SI:5.2</text>
<text y="272.9" font-size="13.5" fill="#000" x="700.5" textLength="46.5" lengthAdjust="spacing" >TT:39.5</text>
<text y="288.6" font-size="13.5" fill="#000" x="701.5" textLength="40.5" lengthAdjust="spacing" >KI:295</text>
<text y="304.6" font-size="13.5" fill="#000" x="700.5" textLength="48.5" lengthAdjust="spacing" >SW:N/A</text>
<text y="319.9" font-size="13.5" fill="#000" x="703.0" textLength="34.0" lengthAdjust="spacingAndGlyphs" >EI:0.2</text>
<text y="335.6" font-size="13.5" fill="#000" x="699.5" textLength="68.5" lengthAdjust="spacing" >−PARCEL−</text>
<text y="351.4" font-size="13.5" fill="#000" x="701.5" textLength="44.5" lengthAdjust="spacingAndGlyphs" >CAPE:0</text>
<text y="367.1" font-size="13.5" fill="#000" x="699.5" textLength="66.0" lengthAdjust="spacingAndGlyphs" >CINH:5327</text>
<text y="383.1" font-size="13.5" fill="#000" x="701.0" textLength="50.5" lengthAdjust="spacing" >LCL:995</text>
<text y="398.4" font-size="13.5" fill="#000" x="701.5" textLength="48.5" lengthAdjust="spacingAndGlyphs" >CAP:0.0</text>
<text y="413.9" font-size="13.5" fill="#000" x="701.0" textLength="53.0" lengthAdjust="spacing" >LFC:N/A</text>
<text y="429.6" font-size="13.5" fill="#000" x="702.0" textLength="43.0" lengthAdjust="spacing" >EL:N/A</text>
<text y="445.6" font-size="13.5" fill="#000" x="700.5" textLength="55.5" lengthAdjust="spacing" >MPL:N/A</text>
<text y="460.9" font-size="13.5" fill="#000" x="701.3" textLength="50.2" lengthAdjust="spacingAndGlyphs" >−WIND−</text>
<text y="477.0" font-size="13.5" fill="#000" x="703.9" textLength="24.1" lengthAdjust="spacingAndGlyphs" >NOT</text>
<text y="493.5" font-size="13.5" fill="#000" x="701.8" textLength="33.2" lengthAdjust="spacingAndGlyphs" >AVAIL</text>
<text font-size="11.5" fill="#4c0090" text-anchor="middle" textLength="13.5" lengthAdjust="spacingAndGlyphs" transform="translate(142.3 523.2) rotate(-45)" x="0" y="4">0.1</text>
<text font-size="11.5" fill="#4c0090" text-anchor="middle" textLength="13.5" lengthAdjust="spacingAndGlyphs" transform="translate(189.2 523.0) rotate(-45)" x="0" y="4">0.2</text>
<text font-size="11.5" fill="#4c0090" text-anchor="middle" textLength="13.5" lengthAdjust="spacingAndGlyphs" transform="translate(254.1 522.8) rotate(-45)" x="0" y="4">0.5</text>
<text font-size="11.5" fill="#4c0090" text-anchor="middle" transform="translate(307.5 523.0) rotate(-45)" x="0" y="4">1</text>
<text font-size="11.5" fill="#4c0090" text-anchor="middle" textLength="13.5" lengthAdjust="spacingAndGlyphs" transform="translate(341.0 522.3) rotate(-45)" x="0" y="4">1.5</text>
<text font-size="11.5" fill="#4c0090" text-anchor="middle" transform="translate(365.4 523.4) rotate(-45)" x="0" y="4">2</text>
<text font-size="11.5" fill="#4c0090" text-anchor="middle" transform="translate(400.3 523.2) rotate(-45)" x="0" y="4">3</text>
<text font-size="11.5" fill="#4c0090" text-anchor="middle" transform="translate(427.9 522.8) rotate(-45)" x="0" y="4">4</text>
<text font-size="11.5" fill="#4c0090" text-anchor="middle" transform="translate(465.2 523.0) rotate(-45)" x="0" y="4">6</text>
<text font-size="11.5" fill="#4c0090" text-anchor="middle" transform="translate(493.7 522.8) rotate(-45)" x="0" y="4">8</text>
<text font-size="11.5" fill="#4c0090" text-anchor="middle" textLength="11" lengthAdjust="spacingAndGlyphs" transform="translate(516.5 522.4) rotate(-45)" x="0" y="4">10</text>
<text font-size="11.5" fill="#4c0090" text-anchor="middle" textLength="11" lengthAdjust="spacingAndGlyphs" transform="translate(535.8 522.4) rotate(-45)" x="0" y="4">12</text>
<text font-size="11.5" fill="#4c0090" text-anchor="middle" textLength="11" lengthAdjust="spacingAndGlyphs" transform="translate(559.0 522.4) rotate(-45)" x="0" y="4">15</text>
<text font-size="11.5" fill="#4c0090" text-anchor="middle" textLength="11" lengthAdjust="spacingAndGlyphs" transform="translate(589.7 523.3) rotate(-45)" x="0" y="4">20</text>
<text font-size="11.5" fill="#4c0090" text-anchor="middle" textLength="11" lengthAdjust="spacingAndGlyphs" transform="translate(614.1 523.3) rotate(-45)" x="0" y="4">25</text>
<text font-size="11.5" fill="#4c0090" text-anchor="middle" textLength="11" lengthAdjust="spacingAndGlyphs" transform="translate(634.7 523.0) rotate(-45)" x="0" y="4">30</text>
<text font-size="11.5" fill="#4c0090" text-anchor="middle" textLength="11" lengthAdjust="spacingAndGlyphs" transform="translate(667.6 524.0) rotate(-45)" x="0" y="4">35</text>
<text font-size="11.5" fill="#4c0090" text-anchor="middle" textLength="11" lengthAdjust="spacingAndGlyphs" transform="translate(669.4 522.6) rotate(-45)" x="0" y="4">40</text>
<text y="527.2" font-size="14" fill="#4c0090" x="674.3" textLength="34.2" lengthAdjust="spacingAndGlyphs" stroke="#fff" stroke-width="0.3">(g/kg)</text>
</svg>
</body></html>
